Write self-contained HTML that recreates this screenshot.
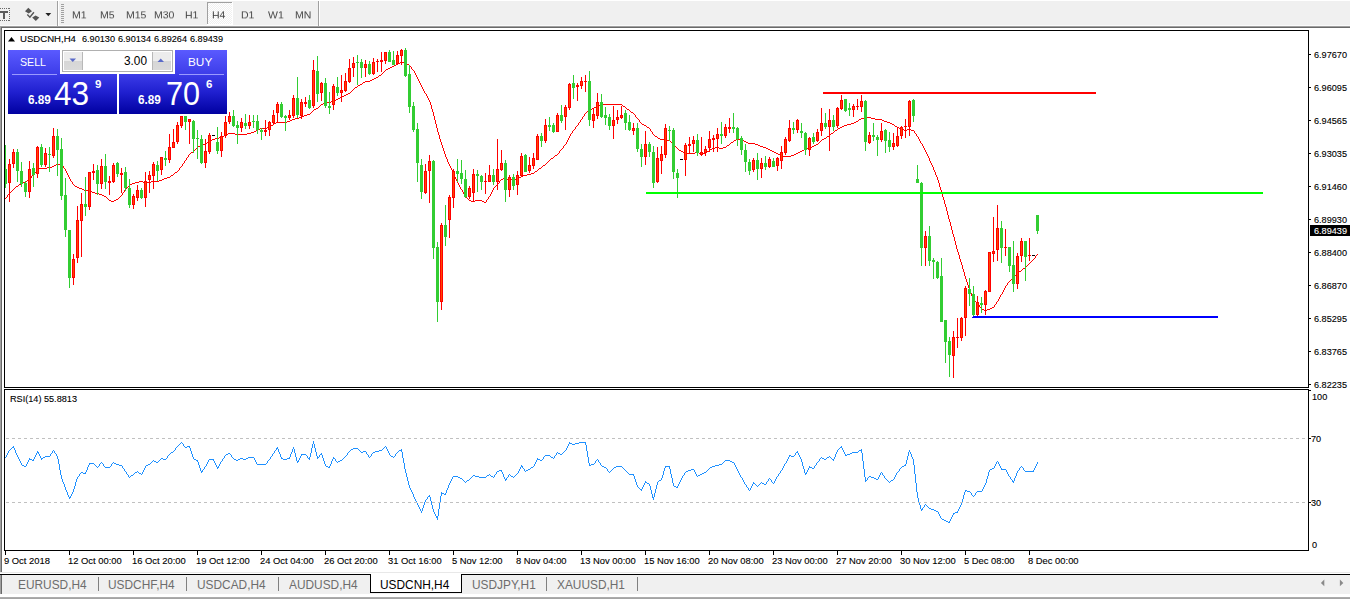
<!DOCTYPE html>
<html><head><meta charset="utf-8"><title>USDCNH,H4</title>
<style>
html,body{margin:0;padding:0;}
body{width:1350px;height:599px;position:relative;overflow:hidden;background:#fff;font-family:"Liberation Sans",sans-serif;}
#chart{position:absolute;left:0;top:0;}
.ax{position:absolute;font-size:9.9px;line-height:12px;color:#000;white-space:nowrap;transform-origin:0 50%;transform:scaleX(0.924);-webkit-text-stroke:0.12px currentColor;}
.cur{color:#fff;}
#tb{position:absolute;left:0;top:0;width:1350px;height:26px;background:#f0f0f0;border-bottom:1px solid #fafafa;box-sizing:border-box;}
#tbl{position:absolute;left:0;top:26px;width:1350px;height:2px;background:#696969;border-top:1px solid #a0a0a0;box-sizing:border-box;}
.tf{position:absolute;top:9.4px;font-size:10.2px;line-height:12px;color:#444;transform-origin:0 100%;transform:scale(1.03,0.875);will-change:transform;}
#lstrip{position:absolute;left:0;top:27px;width:2px;height:545px;background:#696969;border-left:1px solid #a0a0a0;box-sizing:border-box;}
#tabs{position:absolute;left:0;top:574px;width:1350px;height:20px;background:#f0f0f0;border-top:1px solid #000;box-sizing:border-box;}
#tabsbot{position:absolute;left:0;top:594px;width:1350px;height:5px;background:linear-gradient(#fff 0,#fff 60%,#b0b0b0 60%,#a0a0a0 100%);}
.tab{position:absolute;top:577.6px;font-size:12.5px;line-height:14px;color:#6d6d6d;white-space:nowrap;transform-origin:0 50%;transform:scaleX(0.95);}
.sep{position:absolute;top:577px;width:1px;height:14px;background:#808080;}
#atab{position:absolute;left:370px;top:574px;width:92px;height:19px;background:#fff;border:1px solid #000;border-top:none;box-sizing:border-box;}
.pn{position:absolute;color:#fff;white-space:nowrap;}
</style></head><body>
<svg id="chart" width="1350" height="599" viewBox="0 0 1350 599" shape-rendering="crispEdges">
<path d="M4 199h1v1h-1zM5 198h1v1h-1zM6 197h1v1h-1zM7 195h1v2h-1zM8 194h1v1h-1zM9 193h1v1h-1zM10 192h1v1h-1zM11 191h1v1h-1zM12 190h1v1h-1zM13 189h1v1h-1zM14 188h1v1h-1zM15 187h1v1h-1zM16 186h1v1h-1zM17 186h1v1h-1zM18 185h1v1h-1zM19 184h1v1h-1zM20 184h1v1h-1zM21 183h1v1h-1zM22 183h1v1h-1zM23 182h1v1h-1zM24 182h1v1h-1zM25 181h1v1h-1zM26 181h1v1h-1zM27 180h1v1h-1zM28 180h1v1h-1zM29 179h1v1h-1zM30 178h1v1h-1zM31 176h1v2h-1zM32 175h1v1h-1zM33 174h1v1h-1zM34 173h1v1h-1zM35 172h1v1h-1zM36 171h1v1h-1zM37 170h1v1h-1zM38 169h1v1h-1zM39 168h1v1h-1zM40 168h1v1h-1zM41 168h1v1h-1zM42 168h1v1h-1zM43 168h1v1h-1zM44 168h1v1h-1zM45 168h1v1h-1zM46 168h1v1h-1zM47 167h1v1h-1zM48 167h1v1h-1zM49 167h1v1h-1zM50 167h1v1h-1zM51 167h1v1h-1zM52 166h1v1h-1zM53 166h1v1h-1zM54 165h1v1h-1zM55 165h1v1h-1zM56 164h1v1h-1zM57 164h1v1h-1zM58 164h1v1h-1zM59 164h1v1h-1zM60 164h1v1h-1zM61 164h1v1h-1zM62 165h1v1h-1zM63 166h1v2h-1zM64 168h1v1h-1zM65 169h1v2h-1zM66 171h1v2h-1zM67 173h1v2h-1zM68 175h1v2h-1zM69 177h1v2h-1zM70 179h1v2h-1zM71 181h1v1h-1zM72 182h1v2h-1zM73 184h1v1h-1zM74 185h1v1h-1zM75 186h1v1h-1zM76 186h1v1h-1zM77 187h1v1h-1zM78 187h1v1h-1zM79 188h1v1h-1zM80 188h1v1h-1zM81 188h1v1h-1zM82 189h1v1h-1zM83 189h1v1h-1zM84 190h1v1h-1zM85 190h1v1h-1zM86 190h1v1h-1zM87 190h1v1h-1zM88 190h1v1h-1zM89 190h1v1h-1zM90 191h1v1h-1zM91 191h1v1h-1zM92 192h1v1h-1zM93 192h1v1h-1zM94 192h1v1h-1zM95 193h1v1h-1zM96 193h1v1h-1zM97 193h1v1h-1zM98 193h1v1h-1zM99 194h1v1h-1zM100 194h1v1h-1zM101 194h1v1h-1zM102 195h1v1h-1zM103 195h1v1h-1zM104 196h1v1h-1zM105 196h1v1h-1zM106 197h1v1h-1zM107 198h1v1h-1zM108 199h1v1h-1zM109 200h1v1h-1zM110 200h1v1h-1zM111 201h1v1h-1zM112 201h1v1h-1zM113 201h1v1h-1zM114 200h1v1h-1zM115 200h1v1h-1zM116 199h1v1h-1zM117 199h1v1h-1zM118 198h1v1h-1zM119 197h1v1h-1zM120 196h1v1h-1zM121 195h1v1h-1zM122 193h1v2h-1zM123 192h1v1h-1zM124 190h1v2h-1zM125 189h1v1h-1zM126 188h1v1h-1zM127 187h1v1h-1zM128 186h1v1h-1zM129 185h1v1h-1zM130 184h1v1h-1zM131 184h1v1h-1zM132 183h1v1h-1zM133 183h1v1h-1zM134 183h1v1h-1zM135 182h1v1h-1zM136 182h1v1h-1zM137 182h1v1h-1zM138 182h1v1h-1zM139 181h1v1h-1zM140 181h1v1h-1zM141 181h1v1h-1zM142 181h1v1h-1zM143 182h1v1h-1zM144 182h1v1h-1zM145 182h1v1h-1zM146 182h1v1h-1zM147 182h1v1h-1zM148 182h1v1h-1zM149 182h1v1h-1zM150 182h1v1h-1zM151 181h1v1h-1zM152 181h1v1h-1zM153 181h1v1h-1zM154 181h1v1h-1zM155 181h1v1h-1zM156 181h1v1h-1zM157 181h1v1h-1zM158 181h1v1h-1zM159 180h1v1h-1zM160 180h1v1h-1zM161 180h1v1h-1zM162 179h1v1h-1zM163 179h1v1h-1zM164 178h1v1h-1zM165 178h1v1h-1zM166 178h1v1h-1zM167 177h1v1h-1zM168 177h1v1h-1zM169 177h1v1h-1zM170 176h1v1h-1zM171 175h1v1h-1zM172 175h1v1h-1zM173 174h1v1h-1zM174 173h1v1h-1zM175 172h1v1h-1zM176 172h1v1h-1zM177 171h1v1h-1zM178 170h1v1h-1zM179 168h1v2h-1zM180 167h1v1h-1zM181 166h1v1h-1zM182 164h1v2h-1zM183 163h1v1h-1zM184 161h1v2h-1zM185 160h1v1h-1zM186 158h1v2h-1zM187 157h1v1h-1zM188 155h1v2h-1zM189 154h1v1h-1zM190 153h1v1h-1zM191 152h1v1h-1zM192 152h1v1h-1zM193 151h1v1h-1zM194 150h1v1h-1zM195 149h1v1h-1zM196 148h1v1h-1zM197 147h1v1h-1zM198 146h1v1h-1zM199 146h1v1h-1zM200 145h1v1h-1zM201 145h1v1h-1zM202 145h1v1h-1zM203 144h1v1h-1zM204 144h1v1h-1zM205 144h1v1h-1zM206 143h1v1h-1zM207 142h1v1h-1zM208 142h1v1h-1zM209 141h1v1h-1zM210 140h1v1h-1zM211 140h1v1h-1zM212 139h1v1h-1zM213 139h1v1h-1zM214 139h1v1h-1zM215 138h1v1h-1zM216 138h1v1h-1zM217 138h1v1h-1zM218 138h1v1h-1zM219 137h1v1h-1zM220 137h1v1h-1zM221 137h1v1h-1zM222 136h1v1h-1zM223 136h1v1h-1zM224 135h1v1h-1zM225 135h1v1h-1zM226 134h1v1h-1zM227 134h1v1h-1zM228 133h1v1h-1zM229 133h1v1h-1zM230 133h1v1h-1zM231 133h1v1h-1zM232 133h1v1h-1zM233 133h1v1h-1zM234 133h1v1h-1zM235 134h1v1h-1zM236 134h1v1h-1zM237 134h1v1h-1zM238 134h1v1h-1zM239 134h1v1h-1zM240 134h1v1h-1zM241 134h1v1h-1zM242 134h1v1h-1zM243 134h1v1h-1zM244 134h1v1h-1zM245 134h1v1h-1zM246 134h1v1h-1zM247 133h1v1h-1zM248 133h1v1h-1zM249 133h1v1h-1zM250 133h1v1h-1zM251 132h1v1h-1zM252 132h1v1h-1zM253 132h1v1h-1zM254 131h1v1h-1zM255 131h1v1h-1zM256 130h1v1h-1zM257 130h1v1h-1zM258 129h1v1h-1zM259 129h1v1h-1zM260 128h1v1h-1zM261 128h1v1h-1zM262 128h1v1h-1zM263 128h1v1h-1zM264 128h1v1h-1zM265 128h1v1h-1zM266 128h1v1h-1zM267 127h1v1h-1zM268 127h1v1h-1zM269 127h1v1h-1zM270 126h1v1h-1zM271 125h1v1h-1zM272 125h1v1h-1zM273 124h1v1h-1zM274 123h1v1h-1zM275 123h1v1h-1zM276 122h1v1h-1zM277 122h1v1h-1zM278 122h1v1h-1zM279 122h1v1h-1zM280 122h1v1h-1zM281 122h1v1h-1zM282 122h1v1h-1zM283 122h1v1h-1zM284 122h1v1h-1zM285 122h1v1h-1zM286 122h1v1h-1zM287 121h1v1h-1zM288 121h1v1h-1zM289 121h1v1h-1zM290 120h1v1h-1zM291 120h1v1h-1zM292 119h1v1h-1zM293 119h1v1h-1zM294 119h1v1h-1zM295 118h1v1h-1zM296 118h1v1h-1zM297 118h1v1h-1zM298 118h1v1h-1zM299 117h1v1h-1zM300 117h1v1h-1zM301 117h1v1h-1zM302 116h1v1h-1zM303 116h1v1h-1zM304 115h1v1h-1zM305 115h1v1h-1zM306 115h1v1h-1zM307 114h1v1h-1zM308 114h1v1h-1zM309 114h1v1h-1zM310 113h1v1h-1zM311 112h1v1h-1zM312 111h1v1h-1zM313 110h1v1h-1zM314 109h1v1h-1zM315 109h1v1h-1zM316 108h1v1h-1zM317 108h1v1h-1zM318 107h1v1h-1zM319 106h1v1h-1zM320 105h1v1h-1zM321 104h1v1h-1zM322 104h1v1h-1zM323 103h1v1h-1zM324 103h1v1h-1zM325 103h1v1h-1zM326 103h1v1h-1zM327 102h1v1h-1zM328 102h1v1h-1zM329 102h1v1h-1zM330 102h1v1h-1zM331 101h1v1h-1zM332 101h1v1h-1zM333 101h1v1h-1zM334 100h1v1h-1zM335 100h1v1h-1zM336 99h1v1h-1zM337 99h1v1h-1zM338 98h1v1h-1zM339 98h1v1h-1zM340 97h1v1h-1zM341 97h1v1h-1zM342 96h1v1h-1zM343 96h1v1h-1zM344 95h1v1h-1zM345 95h1v1h-1zM346 94h1v1h-1zM347 94h1v1h-1zM348 93h1v1h-1zM349 93h1v1h-1zM350 92h1v1h-1zM351 91h1v1h-1zM352 90h1v1h-1zM353 89h1v1h-1zM354 88h1v1h-1zM355 87h1v1h-1zM356 87h1v1h-1zM357 86h1v1h-1zM358 85h1v1h-1zM359 85h1v1h-1zM360 84h1v1h-1zM361 84h1v1h-1zM362 83h1v1h-1zM363 82h1v1h-1zM364 82h1v1h-1zM365 81h1v1h-1zM366 81h1v1h-1zM367 81h1v1h-1zM368 81h1v1h-1zM369 81h1v1h-1zM370 80h1v1h-1zM371 80h1v1h-1zM372 79h1v1h-1zM373 79h1v1h-1zM374 78h1v1h-1zM375 78h1v1h-1zM376 77h1v1h-1zM377 77h1v1h-1zM378 76h1v1h-1zM379 75h1v1h-1zM380 75h1v1h-1zM381 74h1v1h-1zM382 73h1v1h-1zM383 72h1v1h-1zM384 71h1v1h-1zM385 70h1v1h-1zM386 69h1v1h-1zM387 69h1v1h-1zM388 68h1v1h-1zM389 68h1v1h-1zM390 67h1v1h-1zM391 67h1v1h-1zM392 66h1v1h-1zM393 66h1v1h-1zM394 65h1v1h-1zM395 65h1v1h-1zM396 64h1v1h-1zM397 64h1v1h-1zM398 63h1v1h-1zM399 63h1v1h-1zM400 62h1v1h-1zM401 62h1v1h-1zM402 62h1v1h-1zM403 62h1v1h-1zM404 62h1v1h-1zM405 62h1v1h-1zM406 63h1v1h-1zM407 64h1v1h-1zM408 64h1v1h-1zM409 65h1v1h-1zM410 66h1v1h-1zM411 67h1v2h-1zM412 69h1v1h-1zM413 70h1v1h-1zM414 71h1v2h-1zM415 73h1v2h-1zM416 75h1v2h-1zM417 77h1v2h-1zM418 79h1v2h-1zM419 81h1v2h-1zM420 83h1v2h-1zM421 85h1v2h-1zM422 87h1v2h-1zM423 89h1v2h-1zM424 91h1v2h-1zM425 93h1v1h-1zM426 94h1v2h-1zM427 96h1v2h-1zM428 98h1v2h-1zM429 100h1v2h-1zM430 102h1v3h-1zM431 105h1v4h-1zM432 109h1v3h-1zM433 112h1v4h-1zM434 116h1v4h-1zM435 120h1v4h-1zM436 124h1v4h-1zM437 128h1v4h-1zM438 132h1v3h-1zM439 135h1v4h-1zM440 139h1v3h-1zM441 142h1v3h-1zM442 145h1v3h-1zM443 148h1v3h-1zM444 151h1v3h-1zM445 154h1v3h-1zM446 157h1v2h-1zM447 159h1v3h-1zM448 162h1v2h-1zM449 164h1v2h-1zM450 166h1v2h-1zM451 168h1v2h-1zM452 170h1v2h-1zM453 172h1v3h-1zM454 175h1v2h-1zM455 177h1v2h-1zM456 179h1v2h-1zM457 181h1v2h-1zM458 183h1v2h-1zM459 185h1v2h-1zM460 187h1v2h-1zM461 189h1v1h-1zM462 190h1v2h-1zM463 192h1v2h-1zM464 194h1v2h-1zM465 196h1v1h-1zM466 197h1v1h-1zM467 198h1v1h-1zM468 199h1v1h-1zM469 200h1v1h-1zM470 200h1v1h-1zM471 201h1v1h-1zM472 201h1v1h-1zM473 201h1v1h-1zM474 201h1v1h-1zM475 200h1v1h-1zM476 200h1v1h-1zM477 200h1v1h-1zM478 200h1v1h-1zM479 200h1v1h-1zM480 200h1v1h-1zM481 200h1v1h-1zM482 201h1v1h-1zM483 201h1v1h-1zM484 202h1v1h-1zM485 202h1v1h-1zM486 200h1v2h-1zM487 199h1v1h-1zM488 197h1v2h-1zM489 196h1v1h-1zM490 194h1v2h-1zM491 192h1v2h-1zM492 190h1v2h-1zM493 188h1v2h-1zM494 187h1v1h-1zM495 186h1v1h-1zM496 185h1v1h-1zM497 184h1v1h-1zM498 183h1v1h-1zM499 181h1v2h-1zM500 180h1v1h-1zM501 179h1v1h-1zM502 179h1v1h-1zM503 178h1v1h-1zM504 178h1v1h-1zM505 178h1v1h-1zM506 178h1v1h-1zM507 179h1v1h-1zM508 179h1v1h-1zM509 179h1v1h-1zM510 179h1v1h-1zM511 179h1v1h-1zM512 179h1v1h-1zM513 179h1v1h-1zM514 179h1v1h-1zM515 179h1v1h-1zM516 179h1v1h-1zM517 179h1v1h-1zM518 178h1v1h-1zM519 177h1v1h-1zM520 177h1v1h-1zM521 176h1v1h-1zM522 176h1v1h-1zM523 175h1v1h-1zM524 175h1v1h-1zM525 175h1v1h-1zM526 175h1v1h-1zM527 174h1v1h-1zM528 174h1v1h-1zM529 174h1v1h-1zM530 174h1v1h-1zM531 173h1v1h-1zM532 173h1v1h-1zM533 173h1v1h-1zM534 172h1v1h-1zM535 171h1v1h-1zM536 171h1v1h-1zM537 170h1v1h-1zM538 169h1v1h-1zM539 168h1v1h-1zM540 168h1v1h-1zM541 167h1v1h-1zM542 166h1v1h-1zM543 165h1v1h-1zM544 165h1v1h-1zM545 164h1v1h-1zM546 163h1v1h-1zM547 162h1v1h-1zM548 161h1v1h-1zM549 160h1v1h-1zM550 159h1v1h-1zM551 158h1v1h-1zM552 158h1v1h-1zM553 157h1v1h-1zM554 156h1v1h-1zM555 155h1v1h-1zM556 155h1v1h-1zM557 154h1v1h-1zM558 153h1v1h-1zM559 151h1v2h-1zM560 150h1v1h-1zM561 149h1v1h-1zM562 148h1v1h-1zM563 146h1v2h-1zM564 145h1v1h-1zM565 144h1v1h-1zM566 142h1v2h-1zM567 140h1v2h-1zM568 138h1v2h-1zM569 136h1v2h-1zM570 134h1v2h-1zM571 133h1v1h-1zM572 131h1v2h-1zM573 130h1v1h-1zM574 129h1v1h-1zM575 127h1v2h-1zM576 126h1v1h-1zM577 125h1v1h-1zM578 123h1v2h-1zM579 122h1v1h-1zM580 120h1v2h-1zM581 119h1v1h-1zM582 117h1v2h-1zM583 116h1v1h-1zM584 114h1v2h-1zM585 113h1v1h-1zM586 112h1v1h-1zM587 111h1v1h-1zM588 111h1v1h-1zM589 110h1v1h-1zM590 109h1v1h-1zM591 109h1v1h-1zM592 108h1v1h-1zM593 108h1v1h-1zM594 107h1v1h-1zM595 107h1v1h-1zM596 106h1v1h-1zM597 106h1v1h-1zM598 106h1v1h-1zM599 105h1v1h-1zM600 105h1v1h-1zM601 105h1v1h-1zM602 105h1v1h-1zM603 104h1v1h-1zM604 104h1v1h-1zM605 104h1v1h-1zM606 104h1v1h-1zM607 104h1v1h-1zM608 104h1v1h-1zM609 104h1v1h-1zM610 104h1v1h-1zM611 104h1v1h-1zM612 104h1v1h-1zM613 104h1v1h-1zM614 104h1v1h-1zM615 104h1v1h-1zM616 104h1v1h-1zM617 104h1v1h-1zM618 104h1v1h-1zM619 104h1v1h-1zM620 104h1v1h-1zM621 104h1v1h-1zM622 105h1v1h-1zM623 106h1v1h-1zM624 106h1v1h-1zM625 107h1v1h-1zM626 108h1v1h-1zM627 109h1v1h-1zM628 109h1v1h-1zM629 110h1v1h-1zM630 111h1v1h-1zM631 112h1v1h-1zM632 112h1v1h-1zM633 113h1v1h-1zM634 114h1v1h-1zM635 115h1v2h-1zM636 117h1v1h-1zM637 118h1v1h-1zM638 119h1v1h-1zM639 120h1v2h-1zM640 122h1v1h-1zM641 123h1v1h-1zM642 124h1v1h-1zM643 124h1v1h-1zM644 125h1v1h-1zM645 125h1v1h-1zM646 126h1v1h-1zM647 127h1v1h-1zM648 127h1v1h-1zM649 128h1v1h-1zM650 129h1v2h-1zM651 131h1v1h-1zM652 132h1v2h-1zM653 134h1v1h-1zM654 135h1v1h-1zM655 136h1v1h-1zM656 136h1v1h-1zM657 137h1v1h-1zM658 138h1v1h-1zM659 138h1v1h-1zM660 139h1v1h-1zM661 139h1v1h-1zM662 139h1v1h-1zM663 139h1v1h-1zM664 139h1v1h-1zM665 139h1v1h-1zM666 139h1v1h-1zM667 140h1v1h-1zM668 140h1v1h-1zM669 140h1v1h-1zM670 141h1v1h-1zM671 142h1v1h-1zM672 143h1v1h-1zM673 144h1v1h-1zM674 145h1v1h-1zM675 146h1v1h-1zM676 147h1v1h-1zM677 148h1v1h-1zM678 149h1v1h-1zM679 150h1v1h-1zM680 150h1v1h-1zM681 151h1v1h-1zM682 151h1v1h-1zM683 152h1v1h-1zM684 152h1v1h-1zM685 152h1v1h-1zM686 152h1v1h-1zM687 153h1v1h-1zM688 153h1v1h-1zM689 153h1v1h-1zM690 153h1v1h-1zM691 153h1v1h-1zM692 153h1v1h-1zM693 153h1v1h-1zM694 153h1v1h-1zM695 152h1v1h-1zM696 152h1v1h-1zM697 152h1v1h-1zM698 152h1v1h-1zM699 153h1v1h-1zM700 153h1v1h-1zM701 153h1v1h-1zM702 153h1v1h-1zM703 153h1v1h-1zM704 153h1v1h-1zM705 153h1v1h-1zM706 152h1v1h-1zM707 151h1v1h-1zM708 151h1v1h-1zM709 150h1v1h-1zM710 149h1v1h-1zM711 149h1v1h-1zM712 148h1v1h-1zM713 148h1v1h-1zM714 148h1v1h-1zM715 147h1v1h-1zM716 147h1v1h-1zM717 147h1v1h-1zM718 147h1v1h-1zM719 148h1v1h-1zM720 148h1v1h-1zM721 148h1v1h-1zM722 148h1v1h-1zM723 147h1v1h-1zM724 147h1v1h-1zM725 147h1v1h-1zM726 146h1v1h-1zM727 145h1v1h-1zM728 145h1v1h-1zM729 144h1v1h-1zM730 143h1v1h-1zM731 142h1v1h-1zM732 142h1v1h-1zM733 141h1v1h-1zM734 140h1v1h-1zM735 140h1v1h-1zM736 139h1v1h-1zM737 139h1v1h-1zM738 139h1v1h-1zM739 139h1v1h-1zM740 139h1v1h-1zM741 139h1v1h-1zM742 140h1v1h-1zM743 140h1v1h-1zM744 141h1v1h-1zM745 141h1v1h-1zM746 142h1v1h-1zM747 142h1v1h-1zM748 143h1v1h-1zM749 143h1v1h-1zM750 143h1v1h-1zM751 143h1v1h-1zM752 143h1v1h-1zM753 143h1v1h-1zM754 143h1v1h-1zM755 144h1v1h-1zM756 144h1v1h-1zM757 144h1v1h-1zM758 145h1v1h-1zM759 145h1v1h-1zM760 146h1v1h-1zM761 146h1v1h-1zM762 146h1v1h-1zM763 147h1v1h-1zM764 147h1v1h-1zM765 147h1v1h-1zM766 148h1v1h-1zM767 148h1v1h-1zM768 149h1v1h-1zM769 149h1v1h-1zM770 150h1v1h-1zM771 150h1v1h-1zM772 151h1v1h-1zM773 151h1v1h-1zM774 152h1v1h-1zM775 152h1v1h-1zM776 153h1v1h-1zM777 153h1v1h-1zM778 154h1v1h-1zM779 154h1v1h-1zM780 155h1v1h-1zM781 155h1v1h-1zM782 155h1v1h-1zM783 156h1v1h-1zM784 156h1v1h-1zM785 156h1v1h-1zM786 156h1v1h-1zM787 156h1v1h-1zM788 156h1v1h-1zM789 156h1v1h-1zM790 156h1v1h-1zM791 155h1v1h-1zM792 155h1v1h-1zM793 155h1v1h-1zM794 154h1v1h-1zM795 154h1v1h-1zM796 153h1v1h-1zM797 153h1v1h-1zM798 152h1v1h-1zM799 152h1v1h-1zM800 151h1v1h-1zM801 151h1v1h-1zM802 150h1v1h-1zM803 150h1v1h-1zM804 149h1v1h-1zM805 149h1v1h-1zM806 149h1v1h-1zM807 148h1v1h-1zM808 148h1v1h-1zM809 148h1v1h-1zM810 147h1v1h-1zM811 147h1v1h-1zM812 146h1v1h-1zM813 146h1v1h-1zM814 145h1v1h-1zM815 145h1v1h-1zM816 144h1v1h-1zM817 144h1v1h-1zM818 143h1v1h-1zM819 142h1v1h-1zM820 141h1v1h-1zM821 140h1v1h-1zM822 139h1v1h-1zM823 139h1v1h-1zM824 138h1v1h-1zM825 138h1v1h-1zM826 137h1v1h-1zM827 136h1v1h-1zM828 136h1v1h-1zM829 135h1v1h-1zM830 134h1v1h-1zM831 133h1v1h-1zM832 133h1v1h-1zM833 132h1v1h-1zM834 131h1v1h-1zM835 130h1v1h-1zM836 130h1v1h-1zM837 129h1v1h-1zM838 128h1v1h-1zM839 128h1v1h-1zM840 127h1v1h-1zM841 127h1v1h-1zM842 126h1v1h-1zM843 126h1v1h-1zM844 125h1v1h-1zM845 125h1v1h-1zM846 125h1v1h-1zM847 124h1v1h-1zM848 124h1v1h-1zM849 124h1v1h-1zM850 124h1v1h-1zM851 123h1v1h-1zM852 123h1v1h-1zM853 123h1v1h-1zM854 122h1v1h-1zM855 122h1v1h-1zM856 121h1v1h-1zM857 121h1v1h-1zM858 120h1v1h-1zM859 119h1v1h-1zM860 119h1v1h-1zM861 118h1v1h-1zM862 118h1v1h-1zM863 118h1v1h-1zM864 118h1v1h-1zM865 118h1v1h-1zM866 118h1v1h-1zM867 117h1v1h-1zM868 117h1v1h-1zM869 117h1v1h-1zM870 117h1v1h-1zM871 118h1v1h-1zM872 118h1v1h-1zM873 118h1v1h-1zM874 118h1v1h-1zM875 119h1v1h-1zM876 119h1v1h-1zM877 119h1v1h-1zM878 119h1v1h-1zM879 119h1v1h-1zM880 119h1v1h-1zM881 119h1v1h-1zM882 120h1v1h-1zM883 120h1v1h-1zM884 121h1v1h-1zM885 121h1v1h-1zM886 121h1v1h-1zM887 122h1v1h-1zM888 122h1v1h-1zM889 122h1v1h-1zM890 123h1v1h-1zM891 123h1v1h-1zM892 124h1v1h-1zM893 124h1v1h-1zM894 125h1v1h-1zM895 126h1v1h-1zM896 126h1v1h-1zM897 127h1v1h-1zM898 127h1v1h-1zM899 128h1v1h-1zM900 128h1v1h-1zM901 128h1v1h-1zM902 129h1v1h-1zM903 129h1v1h-1zM904 130h1v1h-1zM905 130h1v1h-1zM906 130h1v1h-1zM907 129h1v1h-1zM908 129h1v1h-1zM909 129h1v1h-1zM910 129h1v1h-1zM911 130h1v1h-1zM912 130h1v1h-1zM913 130h1v1h-1zM914 131h1v2h-1zM915 133h1v1h-1zM916 134h1v2h-1zM917 136h1v1h-1zM918 137h1v2h-1zM919 139h1v2h-1zM920 141h1v2h-1zM921 143h1v1h-1zM922 144h1v2h-1zM923 146h1v2h-1zM924 148h1v2h-1zM925 150h1v2h-1zM926 152h1v2h-1zM927 154h1v2h-1zM928 156h1v2h-1zM929 158h1v3h-1zM930 161h1v2h-1zM931 163h1v2h-1zM932 165h1v2h-1zM933 167h1v3h-1zM934 170h1v2h-1zM935 172h1v3h-1zM936 175h1v2h-1zM937 177h1v3h-1zM938 180h1v3h-1zM939 183h1v4h-1zM940 187h1v3h-1zM941 190h1v3h-1zM942 193h1v4h-1zM943 197h1v3h-1zM944 200h1v4h-1zM945 204h1v3h-1zM946 207h1v4h-1zM947 211h1v4h-1zM948 215h1v4h-1zM949 219h1v3h-1zM950 222h1v4h-1zM951 226h1v4h-1zM952 230h1v4h-1zM953 234h1v3h-1zM954 237h1v4h-1zM955 241h1v4h-1zM956 245h1v4h-1zM957 249h1v3h-1zM958 252h1v3h-1zM959 255h1v4h-1zM960 259h1v3h-1zM961 262h1v3h-1zM962 265h1v4h-1zM963 269h1v3h-1zM964 272h1v4h-1zM965 276h1v3h-1zM966 279h1v3h-1zM967 282h1v3h-1zM968 285h1v3h-1zM969 288h1v3h-1zM970 291h1v2h-1zM971 293h1v3h-1zM972 296h1v2h-1zM973 298h1v2h-1zM974 300h1v1h-1zM975 301h1v1h-1zM976 302h1v1h-1zM977 303h1v1h-1zM978 304h1v1h-1zM979 305h1v2h-1zM980 307h1v1h-1zM981 308h1v1h-1zM982 309h1v1h-1zM983 309h1v1h-1zM984 310h1v1h-1zM985 310h1v1h-1zM986 310h1v1h-1zM987 309h1v1h-1zM988 309h1v1h-1zM989 309h1v1h-1zM990 308h1v1h-1zM991 308h1v1h-1zM992 307h1v1h-1zM993 307h1v1h-1zM994 305h1v2h-1zM995 304h1v1h-1zM996 302h1v2h-1zM997 301h1v1h-1zM998 299h1v2h-1zM999 297h1v2h-1zM1000 295h1v2h-1zM1001 294h1v1h-1zM1002 292h1v2h-1zM1003 290h1v2h-1zM1004 288h1v2h-1zM1005 286h1v2h-1zM1006 285h1v1h-1zM1007 283h1v2h-1zM1008 282h1v1h-1zM1009 281h1v1h-1zM1010 280h1v1h-1zM1011 279h1v1h-1zM1012 278h1v1h-1zM1013 277h1v1h-1zM1014 276h1v1h-1zM1015 275h1v1h-1zM1016 274h1v1h-1zM1017 273h1v1h-1zM1018 272h1v1h-1zM1019 271h1v1h-1zM1020 271h1v1h-1zM1021 270h1v1h-1zM1022 269h1v1h-1zM1023 268h1v1h-1zM1024 268h1v1h-1zM1025 267h1v1h-1zM1026 266h1v1h-1zM1027 265h1v1h-1zM1028 264h1v1h-1zM1029 263h1v1h-1zM1030 262h1v1h-1zM1031 261h1v1h-1zM1032 260h1v1h-1zM1033 259h1v1h-1zM1034 258h1v1h-1zM1035 256h1v2h-1zM1036 255h1v1h-1zM1037 254h1v1h-1z" fill="#ff0000"/>
<rect x="5" y="145" width="1" height="43" fill="#32cd32"/>
<rect x="4" y="169" width="3" height="15" fill="#32cd32"/>
<rect x="9" y="159" width="1" height="43" fill="#ff0000"/>
<rect x="8" y="164" width="3" height="19" fill="#ff0000"/>
<rect x="9" y="165" width="1" height="17" fill="#ff4500"/>
<rect x="13" y="149" width="1" height="19" fill="#ff0000"/>
<rect x="12" y="152" width="3" height="12" fill="#ff0000"/>
<rect x="13" y="153" width="1" height="10" fill="#ff4500"/>
<rect x="17" y="149" width="1" height="33" fill="#32cd32"/>
<rect x="16" y="152" width="3" height="19" fill="#32cd32"/>
<rect x="21" y="162" width="1" height="25" fill="#32cd32"/>
<rect x="20" y="171" width="3" height="13" fill="#32cd32"/>
<rect x="25" y="181" width="1" height="16" fill="#32cd32"/>
<rect x="24" y="183" width="3" height="9" fill="#32cd32"/>
<rect x="29" y="161" width="1" height="37" fill="#ff0000"/>
<rect x="28" y="169" width="3" height="23" fill="#ff0000"/>
<rect x="29" y="170" width="1" height="21" fill="#ff4500"/>
<rect x="33" y="163" width="1" height="24" fill="#32cd32"/>
<rect x="32" y="168" width="3" height="7" fill="#32cd32"/>
<rect x="37" y="146" width="1" height="32" fill="#ff0000"/>
<rect x="36" y="147" width="3" height="27" fill="#ff0000"/>
<rect x="37" y="148" width="1" height="25" fill="#ff4500"/>
<rect x="41" y="144" width="1" height="23" fill="#32cd32"/>
<rect x="40" y="147" width="3" height="18" fill="#32cd32"/>
<rect x="45" y="148" width="1" height="19" fill="#ff0000"/>
<rect x="44" y="153" width="3" height="12" fill="#ff0000"/>
<rect x="45" y="154" width="1" height="10" fill="#ff4500"/>
<rect x="49" y="147" width="1" height="25" fill="#32cd32"/>
<rect x="48" y="154" width="3" height="1" fill="#32cd32"/>
<rect x="53" y="128" width="1" height="30" fill="#ff0000"/>
<rect x="52" y="136" width="3" height="20" fill="#ff0000"/>
<rect x="53" y="137" width="1" height="18" fill="#ff4500"/>
<rect x="57" y="129" width="1" height="47" fill="#32cd32"/>
<rect x="56" y="136" width="3" height="14" fill="#32cd32"/>
<rect x="61" y="138" width="1" height="62" fill="#32cd32"/>
<rect x="60" y="149" width="3" height="47" fill="#32cd32"/>
<rect x="65" y="178" width="1" height="59" fill="#32cd32"/>
<rect x="64" y="195" width="3" height="35" fill="#32cd32"/>
<rect x="69" y="230" width="1" height="58" fill="#32cd32"/>
<rect x="68" y="230" width="3" height="48" fill="#32cd32"/>
<rect x="73" y="254" width="1" height="31" fill="#ff0000"/>
<rect x="72" y="259" width="3" height="19" fill="#ff0000"/>
<rect x="73" y="260" width="1" height="17" fill="#ff4500"/>
<rect x="77" y="206" width="1" height="57" fill="#ff0000"/>
<rect x="76" y="220" width="3" height="38" fill="#ff0000"/>
<rect x="77" y="221" width="1" height="36" fill="#ff4500"/>
<rect x="81" y="193" width="1" height="64" fill="#ff0000"/>
<rect x="80" y="204" width="3" height="17" fill="#ff0000"/>
<rect x="81" y="205" width="1" height="15" fill="#ff4500"/>
<rect x="85" y="177" width="1" height="39" fill="#32cd32"/>
<rect x="84" y="204" width="3" height="3" fill="#32cd32"/>
<rect x="89" y="172" width="1" height="38" fill="#ff0000"/>
<rect x="88" y="172" width="3" height="35" fill="#ff0000"/>
<rect x="89" y="173" width="1" height="33" fill="#ff4500"/>
<rect x="93" y="164" width="1" height="16" fill="#ff0000"/>
<rect x="92" y="171" width="3" height="2" fill="#ff0000"/>
<rect x="97" y="165" width="1" height="30" fill="#32cd32"/>
<rect x="96" y="170" width="3" height="14" fill="#32cd32"/>
<rect x="101" y="159" width="1" height="30" fill="#ff0000"/>
<rect x="100" y="166" width="3" height="18" fill="#ff0000"/>
<rect x="101" y="167" width="1" height="16" fill="#ff4500"/>
<rect x="105" y="154" width="1" height="35" fill="#32cd32"/>
<rect x="104" y="166" width="3" height="16" fill="#32cd32"/>
<rect x="109" y="176" width="1" height="19" fill="#ff0000"/>
<rect x="108" y="181" width="3" height="2" fill="#ff0000"/>
<rect x="113" y="163" width="1" height="20" fill="#ff0000"/>
<rect x="112" y="165" width="3" height="17" fill="#ff0000"/>
<rect x="113" y="166" width="1" height="15" fill="#ff4500"/>
<rect x="117" y="162" width="1" height="15" fill="#32cd32"/>
<rect x="116" y="163" width="3" height="11" fill="#32cd32"/>
<rect x="121" y="168" width="1" height="25" fill="#ff0000"/>
<rect x="120" y="173" width="3" height="2" fill="#ff0000"/>
<rect x="125" y="167" width="1" height="24" fill="#32cd32"/>
<rect x="124" y="172" width="3" height="16" fill="#32cd32"/>
<rect x="129" y="179" width="1" height="29" fill="#32cd32"/>
<rect x="128" y="188" width="3" height="17" fill="#32cd32"/>
<rect x="133" y="194" width="1" height="15" fill="#ff0000"/>
<rect x="132" y="196" width="3" height="9" fill="#ff0000"/>
<rect x="133" y="197" width="1" height="7" fill="#ff4500"/>
<rect x="137" y="185" width="1" height="16" fill="#ff0000"/>
<rect x="136" y="190" width="3" height="8" fill="#ff0000"/>
<rect x="137" y="191" width="1" height="6" fill="#ff4500"/>
<rect x="141" y="188" width="1" height="11" fill="#32cd32"/>
<rect x="140" y="190" width="3" height="8" fill="#32cd32"/>
<rect x="145" y="172" width="1" height="35" fill="#ff0000"/>
<rect x="144" y="181" width="3" height="17" fill="#ff0000"/>
<rect x="145" y="182" width="1" height="15" fill="#ff4500"/>
<rect x="149" y="171" width="1" height="22" fill="#ff0000"/>
<rect x="148" y="175" width="3" height="5" fill="#ff0000"/>
<rect x="149" y="176" width="1" height="3" fill="#ff4500"/>
<rect x="153" y="162" width="1" height="27" fill="#ff0000"/>
<rect x="152" y="164" width="3" height="12" fill="#ff0000"/>
<rect x="153" y="165" width="1" height="10" fill="#ff4500"/>
<rect x="157" y="161" width="1" height="20" fill="#32cd32"/>
<rect x="156" y="165" width="3" height="6" fill="#32cd32"/>
<rect x="161" y="157" width="1" height="18" fill="#ff0000"/>
<rect x="160" y="157" width="3" height="13" fill="#ff0000"/>
<rect x="161" y="158" width="1" height="11" fill="#ff4500"/>
<rect x="165" y="151" width="1" height="15" fill="#32cd32"/>
<rect x="164" y="158" width="3" height="2" fill="#32cd32"/>
<rect x="169" y="134" width="1" height="29" fill="#ff0000"/>
<rect x="168" y="147" width="3" height="13" fill="#ff0000"/>
<rect x="169" y="148" width="1" height="11" fill="#ff4500"/>
<rect x="173" y="129" width="1" height="19" fill="#ff0000"/>
<rect x="172" y="142" width="3" height="6" fill="#ff0000"/>
<rect x="173" y="143" width="1" height="4" fill="#ff4500"/>
<rect x="177" y="122" width="1" height="22" fill="#ff0000"/>
<rect x="176" y="125" width="3" height="17" fill="#ff0000"/>
<rect x="177" y="126" width="1" height="15" fill="#ff4500"/>
<rect x="181" y="116" width="1" height="12" fill="#ff0000"/>
<rect x="180" y="116" width="3" height="10" fill="#ff0000"/>
<rect x="181" y="117" width="1" height="8" fill="#ff4500"/>
<rect x="185" y="116" width="1" height="14" fill="#32cd32"/>
<rect x="184" y="116" width="3" height="6" fill="#32cd32"/>
<rect x="189" y="119" width="1" height="25" fill="#ff0000"/>
<rect x="188" y="119" width="3" height="3" fill="#ff0000"/>
<rect x="189" y="120" width="1" height="1" fill="#ff4500"/>
<rect x="193" y="120" width="1" height="33" fill="#32cd32"/>
<rect x="192" y="121" width="3" height="18" fill="#32cd32"/>
<rect x="197" y="130" width="1" height="29" fill="#32cd32"/>
<rect x="196" y="138" width="3" height="1" fill="#32cd32"/>
<rect x="201" y="135" width="1" height="29" fill="#32cd32"/>
<rect x="200" y="139" width="3" height="24" fill="#32cd32"/>
<rect x="205" y="139" width="1" height="29" fill="#ff0000"/>
<rect x="204" y="151" width="3" height="12" fill="#ff0000"/>
<rect x="205" y="152" width="1" height="10" fill="#ff4500"/>
<rect x="209" y="133" width="1" height="21" fill="#ff0000"/>
<rect x="208" y="135" width="3" height="17" fill="#ff0000"/>
<rect x="209" y="136" width="1" height="15" fill="#ff4500"/>
<rect x="213" y="135" width="1" height="1" fill="#000000"/>
<rect x="212" y="135" width="3" height="1" fill="#000000"/>
<rect x="217" y="127" width="1" height="27" fill="#32cd32"/>
<rect x="216" y="142" width="3" height="9" fill="#32cd32"/>
<rect x="221" y="132" width="1" height="25" fill="#ff0000"/>
<rect x="220" y="136" width="3" height="15" fill="#ff0000"/>
<rect x="221" y="137" width="1" height="13" fill="#ff4500"/>
<rect x="225" y="116" width="1" height="22" fill="#ff0000"/>
<rect x="224" y="122" width="3" height="14" fill="#ff0000"/>
<rect x="225" y="123" width="1" height="12" fill="#ff4500"/>
<rect x="229" y="112" width="1" height="12" fill="#ff0000"/>
<rect x="228" y="116" width="3" height="6" fill="#ff0000"/>
<rect x="229" y="117" width="1" height="4" fill="#ff4500"/>
<rect x="233" y="110" width="1" height="17" fill="#32cd32"/>
<rect x="232" y="116" width="3" height="10" fill="#32cd32"/>
<rect x="237" y="121" width="1" height="23" fill="#32cd32"/>
<rect x="236" y="125" width="3" height="3" fill="#32cd32"/>
<rect x="241" y="118" width="1" height="14" fill="#ff0000"/>
<rect x="240" y="122" width="3" height="6" fill="#ff0000"/>
<rect x="241" y="123" width="1" height="4" fill="#ff4500"/>
<rect x="245" y="114" width="1" height="15" fill="#32cd32"/>
<rect x="244" y="123" width="3" height="3" fill="#32cd32"/>
<rect x="249" y="115" width="1" height="14" fill="#ff0000"/>
<rect x="248" y="122" width="3" height="4" fill="#ff0000"/>
<rect x="249" y="123" width="1" height="2" fill="#ff4500"/>
<rect x="253" y="115" width="1" height="13" fill="#32cd32"/>
<rect x="252" y="121" width="3" height="1" fill="#32cd32"/>
<rect x="257" y="115" width="1" height="19" fill="#32cd32"/>
<rect x="256" y="121" width="3" height="9" fill="#32cd32"/>
<rect x="261" y="128" width="1" height="12" fill="#32cd32"/>
<rect x="260" y="130" width="3" height="2" fill="#32cd32"/>
<rect x="265" y="120" width="1" height="16" fill="#ff0000"/>
<rect x="264" y="130" width="3" height="2" fill="#ff0000"/>
<rect x="269" y="121" width="1" height="15" fill="#ff0000"/>
<rect x="268" y="122" width="3" height="8" fill="#ff0000"/>
<rect x="269" y="123" width="1" height="6" fill="#ff4500"/>
<rect x="273" y="110" width="1" height="14" fill="#ff0000"/>
<rect x="272" y="115" width="3" height="8" fill="#ff0000"/>
<rect x="273" y="116" width="1" height="6" fill="#ff4500"/>
<rect x="277" y="102" width="1" height="21" fill="#ff0000"/>
<rect x="276" y="104" width="3" height="9" fill="#ff0000"/>
<rect x="277" y="105" width="1" height="7" fill="#ff4500"/>
<rect x="281" y="102" width="1" height="16" fill="#32cd32"/>
<rect x="280" y="104" width="3" height="13" fill="#32cd32"/>
<rect x="285" y="115" width="1" height="16" fill="#32cd32"/>
<rect x="284" y="116" width="3" height="2" fill="#32cd32"/>
<rect x="289" y="110" width="1" height="10" fill="#ff0000"/>
<rect x="288" y="115" width="3" height="3" fill="#ff0000"/>
<rect x="289" y="116" width="1" height="1" fill="#ff4500"/>
<rect x="293" y="95" width="1" height="23" fill="#ff0000"/>
<rect x="292" y="98" width="3" height="18" fill="#ff0000"/>
<rect x="293" y="99" width="1" height="16" fill="#ff4500"/>
<rect x="297" y="77" width="1" height="41" fill="#32cd32"/>
<rect x="296" y="98" width="3" height="17" fill="#32cd32"/>
<rect x="301" y="99" width="1" height="20" fill="#ff0000"/>
<rect x="300" y="102" width="3" height="14" fill="#ff0000"/>
<rect x="301" y="103" width="1" height="12" fill="#ff4500"/>
<rect x="305" y="97" width="1" height="10" fill="#ff0000"/>
<rect x="304" y="102" width="3" height="2" fill="#ff0000"/>
<rect x="309" y="95" width="1" height="14" fill="#32cd32"/>
<rect x="308" y="100" width="3" height="8" fill="#32cd32"/>
<rect x="313" y="60" width="1" height="48" fill="#ff0000"/>
<rect x="312" y="70" width="3" height="36" fill="#ff0000"/>
<rect x="313" y="71" width="1" height="34" fill="#ff4500"/>
<rect x="317" y="56" width="1" height="46" fill="#32cd32"/>
<rect x="316" y="71" width="3" height="23" fill="#32cd32"/>
<rect x="321" y="82" width="1" height="19" fill="#ff0000"/>
<rect x="320" y="83" width="3" height="10" fill="#ff0000"/>
<rect x="321" y="84" width="1" height="8" fill="#ff4500"/>
<rect x="325" y="78" width="1" height="30" fill="#32cd32"/>
<rect x="324" y="83" width="3" height="23" fill="#32cd32"/>
<rect x="329" y="92" width="1" height="22" fill="#32cd32"/>
<rect x="328" y="106" width="3" height="2" fill="#32cd32"/>
<rect x="333" y="84" width="1" height="26" fill="#ff0000"/>
<rect x="332" y="86" width="3" height="19" fill="#ff0000"/>
<rect x="333" y="87" width="1" height="17" fill="#ff4500"/>
<rect x="337" y="77" width="1" height="19" fill="#32cd32"/>
<rect x="336" y="87" width="3" height="6" fill="#32cd32"/>
<rect x="341" y="75" width="1" height="27" fill="#ff0000"/>
<rect x="340" y="90" width="3" height="3" fill="#ff0000"/>
<rect x="341" y="91" width="1" height="1" fill="#ff4500"/>
<rect x="345" y="73" width="1" height="19" fill="#ff0000"/>
<rect x="344" y="81" width="3" height="10" fill="#ff0000"/>
<rect x="345" y="82" width="1" height="8" fill="#ff4500"/>
<rect x="349" y="59" width="1" height="24" fill="#ff0000"/>
<rect x="348" y="68" width="3" height="14" fill="#ff0000"/>
<rect x="349" y="69" width="1" height="12" fill="#ff4500"/>
<rect x="353" y="57" width="1" height="20" fill="#ff0000"/>
<rect x="352" y="63" width="3" height="5" fill="#ff0000"/>
<rect x="353" y="64" width="1" height="3" fill="#ff4500"/>
<rect x="357" y="55" width="1" height="30" fill="#32cd32"/>
<rect x="356" y="62" width="3" height="1" fill="#32cd32"/>
<rect x="361" y="59" width="1" height="19" fill="#32cd32"/>
<rect x="360" y="62" width="3" height="6" fill="#32cd32"/>
<rect x="365" y="60" width="1" height="17" fill="#ff0000"/>
<rect x="364" y="64" width="3" height="4" fill="#ff0000"/>
<rect x="365" y="65" width="1" height="2" fill="#ff4500"/>
<rect x="369" y="61" width="1" height="14" fill="#32cd32"/>
<rect x="368" y="64" width="3" height="10" fill="#32cd32"/>
<rect x="373" y="58" width="1" height="17" fill="#ff0000"/>
<rect x="372" y="62" width="3" height="12" fill="#ff0000"/>
<rect x="373" y="63" width="1" height="10" fill="#ff4500"/>
<rect x="377" y="59" width="1" height="13" fill="#ff0000"/>
<rect x="376" y="61" width="3" height="1" fill="#ff0000"/>
<rect x="381" y="52" width="1" height="20" fill="#ff0000"/>
<rect x="380" y="60" width="3" height="2" fill="#ff0000"/>
<rect x="385" y="52" width="1" height="12" fill="#ff0000"/>
<rect x="384" y="52" width="3" height="9" fill="#ff0000"/>
<rect x="385" y="53" width="1" height="7" fill="#ff4500"/>
<rect x="389" y="50" width="1" height="12" fill="#32cd32"/>
<rect x="388" y="52" width="3" height="10" fill="#32cd32"/>
<rect x="393" y="51" width="1" height="14" fill="#32cd32"/>
<rect x="392" y="60" width="3" height="5" fill="#32cd32"/>
<rect x="397" y="51" width="1" height="14" fill="#ff0000"/>
<rect x="396" y="55" width="3" height="9" fill="#ff0000"/>
<rect x="397" y="56" width="1" height="7" fill="#ff4500"/>
<rect x="401" y="49" width="1" height="16" fill="#ff0000"/>
<rect x="400" y="50" width="3" height="6" fill="#ff0000"/>
<rect x="401" y="51" width="1" height="4" fill="#ff4500"/>
<rect x="405" y="48" width="1" height="29" fill="#32cd32"/>
<rect x="404" y="50" width="3" height="26" fill="#32cd32"/>
<rect x="409" y="65" width="1" height="48" fill="#32cd32"/>
<rect x="408" y="74" width="3" height="33" fill="#32cd32"/>
<rect x="413" y="102" width="1" height="30" fill="#32cd32"/>
<rect x="412" y="106" width="3" height="24" fill="#32cd32"/>
<rect x="417" y="123" width="1" height="59" fill="#32cd32"/>
<rect x="416" y="129" width="3" height="34" fill="#32cd32"/>
<rect x="421" y="159" width="1" height="40" fill="#32cd32"/>
<rect x="420" y="165" width="3" height="27" fill="#32cd32"/>
<rect x="425" y="164" width="1" height="30" fill="#ff0000"/>
<rect x="424" y="171" width="3" height="22" fill="#ff0000"/>
<rect x="425" y="172" width="1" height="20" fill="#ff4500"/>
<rect x="429" y="155" width="1" height="48" fill="#ff0000"/>
<rect x="428" y="161" width="3" height="10" fill="#ff0000"/>
<rect x="429" y="162" width="1" height="8" fill="#ff4500"/>
<rect x="433" y="160" width="1" height="99" fill="#32cd32"/>
<rect x="432" y="161" width="3" height="87" fill="#32cd32"/>
<rect x="437" y="242" width="1" height="80" fill="#32cd32"/>
<rect x="436" y="247" width="3" height="55" fill="#32cd32"/>
<rect x="441" y="223" width="1" height="87" fill="#ff0000"/>
<rect x="440" y="225" width="3" height="77" fill="#ff0000"/>
<rect x="441" y="226" width="1" height="75" fill="#ff4500"/>
<rect x="445" y="205" width="1" height="41" fill="#32cd32"/>
<rect x="444" y="225" width="3" height="12" fill="#32cd32"/>
<rect x="449" y="195" width="1" height="43" fill="#ff0000"/>
<rect x="448" y="197" width="3" height="23" fill="#ff0000"/>
<rect x="449" y="198" width="1" height="21" fill="#ff4500"/>
<rect x="453" y="169" width="1" height="39" fill="#ff0000"/>
<rect x="452" y="171" width="3" height="27" fill="#ff0000"/>
<rect x="453" y="172" width="1" height="25" fill="#ff4500"/>
<rect x="457" y="159" width="1" height="23" fill="#32cd32"/>
<rect x="456" y="171" width="3" height="3" fill="#32cd32"/>
<rect x="461" y="160" width="1" height="24" fill="#32cd32"/>
<rect x="460" y="173" width="3" height="6" fill="#32cd32"/>
<rect x="465" y="170" width="1" height="28" fill="#32cd32"/>
<rect x="464" y="179" width="3" height="18" fill="#32cd32"/>
<rect x="469" y="186" width="1" height="13" fill="#ff0000"/>
<rect x="468" y="188" width="3" height="9" fill="#ff0000"/>
<rect x="469" y="189" width="1" height="7" fill="#ff4500"/>
<rect x="473" y="169" width="1" height="33" fill="#ff0000"/>
<rect x="472" y="174" width="3" height="19" fill="#ff0000"/>
<rect x="473" y="175" width="1" height="17" fill="#ff4500"/>
<rect x="477" y="170" width="1" height="22" fill="#32cd32"/>
<rect x="476" y="174" width="3" height="2" fill="#32cd32"/>
<rect x="481" y="175" width="1" height="15" fill="#32cd32"/>
<rect x="480" y="176" width="3" height="6" fill="#32cd32"/>
<rect x="485" y="173" width="1" height="21" fill="#ff0000"/>
<rect x="484" y="181" width="3" height="1" fill="#ff0000"/>
<rect x="489" y="165" width="1" height="17" fill="#ff0000"/>
<rect x="488" y="175" width="3" height="7" fill="#ff0000"/>
<rect x="489" y="176" width="1" height="5" fill="#ff4500"/>
<rect x="493" y="169" width="1" height="16" fill="#32cd32"/>
<rect x="492" y="175" width="3" height="7" fill="#32cd32"/>
<rect x="497" y="139" width="1" height="51" fill="#ff0000"/>
<rect x="496" y="169" width="3" height="13" fill="#ff0000"/>
<rect x="497" y="170" width="1" height="11" fill="#ff4500"/>
<rect x="501" y="150" width="1" height="21" fill="#ff0000"/>
<rect x="500" y="163" width="3" height="7" fill="#ff0000"/>
<rect x="501" y="164" width="1" height="5" fill="#ff4500"/>
<rect x="505" y="160" width="1" height="42" fill="#32cd32"/>
<rect x="504" y="163" width="3" height="27" fill="#32cd32"/>
<rect x="509" y="175" width="1" height="22" fill="#ff0000"/>
<rect x="508" y="177" width="3" height="13" fill="#ff0000"/>
<rect x="509" y="178" width="1" height="11" fill="#ff4500"/>
<rect x="513" y="174" width="1" height="16" fill="#32cd32"/>
<rect x="512" y="177" width="3" height="9" fill="#32cd32"/>
<rect x="517" y="171" width="1" height="24" fill="#ff0000"/>
<rect x="516" y="175" width="3" height="10" fill="#ff0000"/>
<rect x="517" y="176" width="1" height="8" fill="#ff4500"/>
<rect x="521" y="153" width="1" height="24" fill="#ff0000"/>
<rect x="520" y="156" width="3" height="20" fill="#ff0000"/>
<rect x="521" y="157" width="1" height="18" fill="#ff4500"/>
<rect x="525" y="154" width="1" height="18" fill="#32cd32"/>
<rect x="524" y="155" width="3" height="17" fill="#32cd32"/>
<rect x="529" y="157" width="1" height="16" fill="#ff0000"/>
<rect x="528" y="165" width="3" height="6" fill="#ff0000"/>
<rect x="529" y="166" width="1" height="4" fill="#ff4500"/>
<rect x="533" y="153" width="1" height="16" fill="#ff0000"/>
<rect x="532" y="158" width="3" height="8" fill="#ff0000"/>
<rect x="533" y="159" width="1" height="6" fill="#ff4500"/>
<rect x="537" y="134" width="1" height="26" fill="#ff0000"/>
<rect x="536" y="136" width="3" height="24" fill="#ff0000"/>
<rect x="537" y="137" width="1" height="22" fill="#ff4500"/>
<rect x="541" y="133" width="1" height="14" fill="#32cd32"/>
<rect x="540" y="136" width="3" height="5" fill="#32cd32"/>
<rect x="545" y="119" width="1" height="24" fill="#ff0000"/>
<rect x="544" y="125" width="3" height="16" fill="#ff0000"/>
<rect x="545" y="126" width="1" height="14" fill="#ff4500"/>
<rect x="549" y="117" width="1" height="14" fill="#32cd32"/>
<rect x="548" y="125" width="3" height="2" fill="#32cd32"/>
<rect x="553" y="123" width="1" height="10" fill="#32cd32"/>
<rect x="552" y="125" width="3" height="7" fill="#32cd32"/>
<rect x="557" y="113" width="1" height="19" fill="#ff0000"/>
<rect x="556" y="115" width="3" height="17" fill="#ff0000"/>
<rect x="557" y="116" width="1" height="15" fill="#ff4500"/>
<rect x="561" y="105" width="1" height="18" fill="#32cd32"/>
<rect x="560" y="115" width="3" height="6" fill="#32cd32"/>
<rect x="565" y="105" width="1" height="25" fill="#ff0000"/>
<rect x="564" y="107" width="3" height="10" fill="#ff0000"/>
<rect x="565" y="108" width="1" height="8" fill="#ff4500"/>
<rect x="569" y="83" width="1" height="27" fill="#ff0000"/>
<rect x="568" y="84" width="3" height="24" fill="#ff0000"/>
<rect x="569" y="85" width="1" height="22" fill="#ff4500"/>
<rect x="573" y="75" width="1" height="24" fill="#32cd32"/>
<rect x="572" y="83" width="3" height="5" fill="#32cd32"/>
<rect x="577" y="83" width="1" height="18" fill="#ff0000"/>
<rect x="576" y="85" width="3" height="2" fill="#ff0000"/>
<rect x="581" y="77" width="1" height="12" fill="#ff0000"/>
<rect x="580" y="81" width="3" height="5" fill="#ff0000"/>
<rect x="581" y="82" width="1" height="3" fill="#ff4500"/>
<rect x="585" y="75" width="1" height="17" fill="#ff0000"/>
<rect x="584" y="81" width="3" height="1" fill="#ff0000"/>
<rect x="589" y="71" width="1" height="55" fill="#32cd32"/>
<rect x="588" y="81" width="3" height="39" fill="#32cd32"/>
<rect x="593" y="108" width="1" height="20" fill="#ff0000"/>
<rect x="592" y="114" width="3" height="7" fill="#ff0000"/>
<rect x="593" y="115" width="1" height="5" fill="#ff4500"/>
<rect x="597" y="93" width="1" height="26" fill="#ff0000"/>
<rect x="596" y="102" width="3" height="14" fill="#ff0000"/>
<rect x="597" y="103" width="1" height="12" fill="#ff4500"/>
<rect x="601" y="94" width="1" height="24" fill="#32cd32"/>
<rect x="600" y="102" width="3" height="15" fill="#32cd32"/>
<rect x="605" y="107" width="1" height="18" fill="#32cd32"/>
<rect x="604" y="115" width="3" height="3" fill="#32cd32"/>
<rect x="609" y="114" width="1" height="16" fill="#32cd32"/>
<rect x="608" y="117" width="3" height="9" fill="#32cd32"/>
<rect x="613" y="106" width="1" height="33" fill="#ff0000"/>
<rect x="612" y="120" width="3" height="6" fill="#ff0000"/>
<rect x="613" y="121" width="1" height="4" fill="#ff4500"/>
<rect x="617" y="110" width="1" height="14" fill="#ff0000"/>
<rect x="616" y="117" width="3" height="3" fill="#ff0000"/>
<rect x="617" y="118" width="1" height="1" fill="#ff4500"/>
<rect x="621" y="106" width="1" height="13" fill="#ff0000"/>
<rect x="620" y="115" width="3" height="3" fill="#ff0000"/>
<rect x="621" y="116" width="1" height="1" fill="#ff4500"/>
<rect x="625" y="110" width="1" height="20" fill="#32cd32"/>
<rect x="624" y="113" width="3" height="10" fill="#32cd32"/>
<rect x="629" y="115" width="1" height="16" fill="#32cd32"/>
<rect x="628" y="122" width="3" height="8" fill="#32cd32"/>
<rect x="633" y="123" width="1" height="12" fill="#ff0000"/>
<rect x="632" y="128" width="3" height="3" fill="#ff0000"/>
<rect x="633" y="129" width="1" height="1" fill="#ff4500"/>
<rect x="637" y="123" width="1" height="29" fill="#32cd32"/>
<rect x="636" y="128" width="3" height="21" fill="#32cd32"/>
<rect x="641" y="144" width="1" height="23" fill="#32cd32"/>
<rect x="640" y="149" width="3" height="8" fill="#32cd32"/>
<rect x="645" y="131" width="1" height="34" fill="#ff0000"/>
<rect x="644" y="144" width="3" height="13" fill="#ff0000"/>
<rect x="645" y="145" width="1" height="11" fill="#ff4500"/>
<rect x="649" y="142" width="1" height="15" fill="#32cd32"/>
<rect x="648" y="144" width="3" height="8" fill="#32cd32"/>
<rect x="653" y="146" width="1" height="42" fill="#32cd32"/>
<rect x="652" y="152" width="3" height="31" fill="#32cd32"/>
<rect x="657" y="147" width="1" height="36" fill="#ff0000"/>
<rect x="656" y="158" width="3" height="24" fill="#ff0000"/>
<rect x="657" y="159" width="1" height="22" fill="#ff4500"/>
<rect x="661" y="146" width="1" height="28" fill="#ff0000"/>
<rect x="660" y="154" width="3" height="7" fill="#ff0000"/>
<rect x="661" y="155" width="1" height="5" fill="#ff4500"/>
<rect x="665" y="124" width="1" height="34" fill="#ff0000"/>
<rect x="664" y="128" width="3" height="27" fill="#ff0000"/>
<rect x="665" y="129" width="1" height="25" fill="#ff4500"/>
<rect x="669" y="126" width="1" height="15" fill="#32cd32"/>
<rect x="668" y="130" width="3" height="1" fill="#32cd32"/>
<rect x="673" y="128" width="1" height="51" fill="#32cd32"/>
<rect x="672" y="130" width="3" height="42" fill="#32cd32"/>
<rect x="677" y="169" width="1" height="29" fill="#32cd32"/>
<rect x="676" y="173" width="3" height="5" fill="#32cd32"/>
<rect x="681" y="159" width="1" height="1" fill="#000000"/>
<rect x="680" y="159" width="3" height="1" fill="#000000"/>
<rect x="685" y="143" width="1" height="33" fill="#ff0000"/>
<rect x="684" y="145" width="3" height="15" fill="#ff0000"/>
<rect x="685" y="146" width="1" height="13" fill="#ff4500"/>
<rect x="689" y="137" width="1" height="16" fill="#ff0000"/>
<rect x="688" y="144" width="3" height="2" fill="#ff0000"/>
<rect x="693" y="136" width="1" height="16" fill="#ff0000"/>
<rect x="692" y="140" width="3" height="4" fill="#ff0000"/>
<rect x="693" y="141" width="1" height="2" fill="#ff4500"/>
<rect x="697" y="134" width="1" height="22" fill="#32cd32"/>
<rect x="696" y="140" width="3" height="13" fill="#32cd32"/>
<rect x="701" y="137" width="1" height="19" fill="#ff0000"/>
<rect x="700" y="152" width="3" height="3" fill="#ff0000"/>
<rect x="701" y="153" width="1" height="1" fill="#ff4500"/>
<rect x="705" y="146" width="1" height="10" fill="#ff0000"/>
<rect x="704" y="149" width="3" height="4" fill="#ff0000"/>
<rect x="705" y="150" width="1" height="2" fill="#ff4500"/>
<rect x="709" y="131" width="1" height="21" fill="#ff0000"/>
<rect x="708" y="139" width="3" height="9" fill="#ff0000"/>
<rect x="709" y="140" width="1" height="7" fill="#ff4500"/>
<rect x="713" y="135" width="1" height="17" fill="#ff0000"/>
<rect x="712" y="138" width="3" height="2" fill="#ff0000"/>
<rect x="717" y="128" width="1" height="24" fill="#ff0000"/>
<rect x="716" y="134" width="3" height="5" fill="#ff0000"/>
<rect x="717" y="135" width="1" height="3" fill="#ff4500"/>
<rect x="721" y="122" width="1" height="22" fill="#32cd32"/>
<rect x="720" y="134" width="3" height="2" fill="#32cd32"/>
<rect x="725" y="124" width="1" height="14" fill="#ff0000"/>
<rect x="724" y="127" width="3" height="9" fill="#ff0000"/>
<rect x="725" y="128" width="1" height="7" fill="#ff4500"/>
<rect x="729" y="118" width="1" height="15" fill="#ff0000"/>
<rect x="728" y="127" width="3" height="2" fill="#ff0000"/>
<rect x="733" y="113" width="1" height="20" fill="#32cd32"/>
<rect x="732" y="127" width="3" height="2" fill="#32cd32"/>
<rect x="737" y="127" width="1" height="19" fill="#32cd32"/>
<rect x="736" y="128" width="3" height="11" fill="#32cd32"/>
<rect x="741" y="136" width="1" height="19" fill="#32cd32"/>
<rect x="740" y="138" width="3" height="12" fill="#32cd32"/>
<rect x="745" y="144" width="1" height="28" fill="#32cd32"/>
<rect x="744" y="150" width="3" height="12" fill="#32cd32"/>
<rect x="749" y="159" width="1" height="16" fill="#32cd32"/>
<rect x="748" y="162" width="3" height="9" fill="#32cd32"/>
<rect x="753" y="158" width="1" height="14" fill="#ff0000"/>
<rect x="752" y="160" width="3" height="10" fill="#ff0000"/>
<rect x="753" y="161" width="1" height="8" fill="#ff4500"/>
<rect x="757" y="153" width="1" height="27" fill="#32cd32"/>
<rect x="756" y="160" width="3" height="9" fill="#32cd32"/>
<rect x="761" y="158" width="1" height="20" fill="#ff0000"/>
<rect x="760" y="163" width="3" height="6" fill="#ff0000"/>
<rect x="761" y="164" width="1" height="4" fill="#ff4500"/>
<rect x="765" y="156" width="1" height="14" fill="#32cd32"/>
<rect x="764" y="163" width="3" height="4" fill="#32cd32"/>
<rect x="769" y="157" width="1" height="11" fill="#ff0000"/>
<rect x="768" y="159" width="3" height="8" fill="#ff0000"/>
<rect x="769" y="160" width="1" height="6" fill="#ff4500"/>
<rect x="773" y="158" width="1" height="9" fill="#32cd32"/>
<rect x="772" y="161" width="3" height="6" fill="#32cd32"/>
<rect x="777" y="157" width="1" height="14" fill="#ff0000"/>
<rect x="776" y="158" width="3" height="8" fill="#ff0000"/>
<rect x="777" y="159" width="1" height="6" fill="#ff4500"/>
<rect x="781" y="146" width="1" height="23" fill="#ff0000"/>
<rect x="780" y="152" width="3" height="9" fill="#ff0000"/>
<rect x="781" y="153" width="1" height="7" fill="#ff4500"/>
<rect x="785" y="137" width="1" height="18" fill="#ff0000"/>
<rect x="784" y="139" width="3" height="14" fill="#ff0000"/>
<rect x="785" y="140" width="1" height="12" fill="#ff4500"/>
<rect x="789" y="120" width="1" height="22" fill="#ff0000"/>
<rect x="788" y="128" width="3" height="13" fill="#ff0000"/>
<rect x="789" y="129" width="1" height="11" fill="#ff4500"/>
<rect x="793" y="122" width="1" height="12" fill="#32cd32"/>
<rect x="792" y="128" width="3" height="2" fill="#32cd32"/>
<rect x="797" y="119" width="1" height="14" fill="#ff0000"/>
<rect x="796" y="120" width="3" height="10" fill="#ff0000"/>
<rect x="797" y="121" width="1" height="8" fill="#ff4500"/>
<rect x="801" y="123" width="1" height="15" fill="#32cd32"/>
<rect x="800" y="131" width="3" height="2" fill="#32cd32"/>
<rect x="805" y="132" width="1" height="23" fill="#32cd32"/>
<rect x="804" y="133" width="3" height="17" fill="#32cd32"/>
<rect x="809" y="137" width="1" height="19" fill="#ff0000"/>
<rect x="808" y="138" width="3" height="12" fill="#ff0000"/>
<rect x="809" y="139" width="1" height="10" fill="#ff4500"/>
<rect x="813" y="133" width="1" height="11" fill="#32cd32"/>
<rect x="812" y="137" width="3" height="5" fill="#32cd32"/>
<rect x="817" y="129" width="1" height="13" fill="#ff0000"/>
<rect x="816" y="132" width="3" height="9" fill="#ff0000"/>
<rect x="817" y="133" width="1" height="7" fill="#ff4500"/>
<rect x="821" y="108" width="1" height="28" fill="#ff0000"/>
<rect x="820" y="123" width="3" height="8" fill="#ff0000"/>
<rect x="821" y="124" width="1" height="6" fill="#ff4500"/>
<rect x="825" y="113" width="1" height="16" fill="#32cd32"/>
<rect x="824" y="123" width="3" height="4" fill="#32cd32"/>
<rect x="829" y="109" width="1" height="42" fill="#ff0000"/>
<rect x="828" y="120" width="3" height="7" fill="#ff0000"/>
<rect x="829" y="121" width="1" height="5" fill="#ff4500"/>
<rect x="833" y="115" width="1" height="16" fill="#32cd32"/>
<rect x="832" y="120" width="3" height="7" fill="#32cd32"/>
<rect x="837" y="107" width="1" height="21" fill="#ff0000"/>
<rect x="836" y="108" width="3" height="18" fill="#ff0000"/>
<rect x="837" y="109" width="1" height="16" fill="#ff4500"/>
<rect x="841" y="95" width="1" height="15" fill="#ff0000"/>
<rect x="840" y="100" width="3" height="9" fill="#ff0000"/>
<rect x="841" y="101" width="1" height="7" fill="#ff4500"/>
<rect x="845" y="99" width="1" height="13" fill="#32cd32"/>
<rect x="844" y="99" width="3" height="12" fill="#32cd32"/>
<rect x="849" y="103" width="1" height="13" fill="#32cd32"/>
<rect x="848" y="108" width="3" height="2" fill="#32cd32"/>
<rect x="853" y="104" width="1" height="13" fill="#ff0000"/>
<rect x="852" y="106" width="3" height="4" fill="#ff0000"/>
<rect x="853" y="107" width="1" height="2" fill="#ff4500"/>
<rect x="857" y="99" width="1" height="11" fill="#ff0000"/>
<rect x="856" y="106" width="3" height="1" fill="#ff0000"/>
<rect x="861" y="95" width="1" height="17" fill="#ff0000"/>
<rect x="860" y="101" width="3" height="6" fill="#ff0000"/>
<rect x="861" y="102" width="1" height="4" fill="#ff4500"/>
<rect x="865" y="100" width="1" height="51" fill="#32cd32"/>
<rect x="864" y="101" width="3" height="41" fill="#32cd32"/>
<rect x="869" y="132" width="1" height="12" fill="#ff0000"/>
<rect x="868" y="135" width="3" height="8" fill="#ff0000"/>
<rect x="869" y="136" width="1" height="6" fill="#ff4500"/>
<rect x="873" y="123" width="1" height="18" fill="#32cd32"/>
<rect x="872" y="135" width="3" height="2" fill="#32cd32"/>
<rect x="877" y="135" width="1" height="21" fill="#32cd32"/>
<rect x="876" y="137" width="3" height="3" fill="#32cd32"/>
<rect x="881" y="123" width="1" height="19" fill="#ff0000"/>
<rect x="880" y="131" width="3" height="9" fill="#ff0000"/>
<rect x="881" y="132" width="1" height="7" fill="#ff4500"/>
<rect x="885" y="129" width="1" height="24" fill="#32cd32"/>
<rect x="884" y="130" width="3" height="11" fill="#32cd32"/>
<rect x="889" y="132" width="1" height="20" fill="#32cd32"/>
<rect x="888" y="140" width="3" height="7" fill="#32cd32"/>
<rect x="893" y="133" width="1" height="17" fill="#ff0000"/>
<rect x="892" y="143" width="3" height="4" fill="#ff0000"/>
<rect x="893" y="144" width="1" height="2" fill="#ff4500"/>
<rect x="897" y="127" width="1" height="20" fill="#ff0000"/>
<rect x="896" y="136" width="3" height="10" fill="#ff0000"/>
<rect x="897" y="137" width="1" height="8" fill="#ff4500"/>
<rect x="901" y="126" width="1" height="13" fill="#ff0000"/>
<rect x="900" y="127" width="3" height="9" fill="#ff0000"/>
<rect x="901" y="128" width="1" height="7" fill="#ff4500"/>
<rect x="905" y="119" width="1" height="19" fill="#ff0000"/>
<rect x="904" y="126" width="3" height="1" fill="#ff0000"/>
<rect x="909" y="100" width="1" height="36" fill="#ff0000"/>
<rect x="908" y="101" width="3" height="26" fill="#ff0000"/>
<rect x="909" y="102" width="1" height="24" fill="#ff4500"/>
<rect x="913" y="99" width="1" height="23" fill="#32cd32"/>
<rect x="912" y="100" width="3" height="16" fill="#32cd32"/>
<rect x="917" y="165" width="1" height="18" fill="#32cd32"/>
<rect x="916" y="179" width="3" height="4" fill="#32cd32"/>
<rect x="921" y="182" width="1" height="84" fill="#32cd32"/>
<rect x="920" y="183" width="3" height="65" fill="#32cd32"/>
<rect x="925" y="231" width="1" height="35" fill="#ff0000"/>
<rect x="924" y="236" width="3" height="12" fill="#ff0000"/>
<rect x="925" y="237" width="1" height="10" fill="#ff4500"/>
<rect x="929" y="226" width="1" height="40" fill="#32cd32"/>
<rect x="928" y="236" width="3" height="25" fill="#32cd32"/>
<rect x="933" y="258" width="1" height="21" fill="#32cd32"/>
<rect x="932" y="260" width="3" height="2" fill="#32cd32"/>
<rect x="937" y="261" width="1" height="18" fill="#32cd32"/>
<rect x="936" y="262" width="3" height="16" fill="#32cd32"/>
<rect x="941" y="258" width="1" height="64" fill="#32cd32"/>
<rect x="940" y="276" width="3" height="46" fill="#32cd32"/>
<rect x="945" y="320" width="1" height="43" fill="#32cd32"/>
<rect x="944" y="320" width="3" height="22" fill="#32cd32"/>
<rect x="949" y="337" width="1" height="40" fill="#32cd32"/>
<rect x="948" y="341" width="3" height="14" fill="#32cd32"/>
<rect x="953" y="331" width="1" height="47" fill="#ff0000"/>
<rect x="952" y="337" width="3" height="19" fill="#ff0000"/>
<rect x="953" y="338" width="1" height="17" fill="#ff4500"/>
<rect x="957" y="318" width="1" height="30" fill="#ff0000"/>
<rect x="956" y="337" width="3" height="1" fill="#ff0000"/>
<rect x="961" y="317" width="1" height="24" fill="#ff0000"/>
<rect x="960" y="318" width="3" height="20" fill="#ff0000"/>
<rect x="961" y="319" width="1" height="18" fill="#ff4500"/>
<rect x="965" y="286" width="1" height="50" fill="#ff0000"/>
<rect x="964" y="288" width="3" height="30" fill="#ff0000"/>
<rect x="965" y="289" width="1" height="28" fill="#ff4500"/>
<rect x="969" y="278" width="1" height="28" fill="#32cd32"/>
<rect x="968" y="289" width="3" height="5" fill="#32cd32"/>
<rect x="973" y="286" width="1" height="30" fill="#32cd32"/>
<rect x="972" y="294" width="3" height="21" fill="#32cd32"/>
<rect x="977" y="296" width="1" height="20" fill="#ff0000"/>
<rect x="976" y="302" width="3" height="13" fill="#ff0000"/>
<rect x="977" y="303" width="1" height="11" fill="#ff4500"/>
<rect x="981" y="297" width="1" height="16" fill="#32cd32"/>
<rect x="980" y="303" width="3" height="2" fill="#32cd32"/>
<rect x="985" y="290" width="1" height="25" fill="#ff0000"/>
<rect x="984" y="291" width="3" height="14" fill="#ff0000"/>
<rect x="985" y="292" width="1" height="12" fill="#ff4500"/>
<rect x="989" y="252" width="1" height="40" fill="#ff0000"/>
<rect x="988" y="252" width="3" height="40" fill="#ff0000"/>
<rect x="989" y="253" width="1" height="38" fill="#ff4500"/>
<rect x="993" y="217" width="1" height="45" fill="#ff0000"/>
<rect x="992" y="251" width="3" height="3" fill="#ff0000"/>
<rect x="993" y="252" width="1" height="1" fill="#ff4500"/>
<rect x="997" y="205" width="1" height="56" fill="#ff0000"/>
<rect x="996" y="228" width="3" height="22" fill="#ff0000"/>
<rect x="997" y="229" width="1" height="20" fill="#ff4500"/>
<rect x="1001" y="221" width="1" height="42" fill="#32cd32"/>
<rect x="1000" y="228" width="3" height="20" fill="#32cd32"/>
<rect x="1005" y="229" width="1" height="27" fill="#ff0000"/>
<rect x="1004" y="247" width="3" height="1" fill="#ff0000"/>
<rect x="1009" y="247" width="1" height="25" fill="#32cd32"/>
<rect x="1008" y="247" width="3" height="19" fill="#32cd32"/>
<rect x="1013" y="241" width="1" height="51" fill="#32cd32"/>
<rect x="1012" y="265" width="3" height="19" fill="#32cd32"/>
<rect x="1017" y="253" width="1" height="36" fill="#ff0000"/>
<rect x="1016" y="256" width="3" height="28" fill="#ff0000"/>
<rect x="1017" y="257" width="1" height="26" fill="#ff4500"/>
<rect x="1021" y="238" width="1" height="24" fill="#ff0000"/>
<rect x="1020" y="241" width="3" height="15" fill="#ff0000"/>
<rect x="1021" y="242" width="1" height="13" fill="#ff4500"/>
<rect x="1025" y="241" width="1" height="40" fill="#32cd32"/>
<rect x="1024" y="241" width="3" height="16" fill="#32cd32"/>
<rect x="1029" y="238" width="1" height="23" fill="#ff0000"/>
<rect x="1028" y="255" width="3" height="1" fill="#ff0000"/>
<rect x="1033" y="255" width="1" height="1" fill="#000000"/>
<rect x="1032" y="255" width="3" height="1" fill="#000000"/>
<rect x="1037" y="215" width="1" height="19" fill="#32cd32"/>
<rect x="1036" y="215" width="3" height="16" fill="#32cd32"/>
<path d="M5 457h1v1h-1zM6 455h1v2h-1zM7 453h1v2h-1zM8 451h1v2h-1zM9 450h1v1h-1zM10 449h1v1h-1zM11 448h1v1h-1zM12 447h1v1h-1zM13 446h1v2h-1zM14 448h1v2h-1zM15 450h1v3h-1zM16 453h1v2h-1zM17 455h1v2h-1zM18 457h1v2h-1zM19 459h1v2h-1zM20 461h1v2h-1zM21 463h1v2h-1zM22 465h1v1h-1zM23 465h1v1h-1zM24 466h1v1h-1zM25 466h1v1h-1zM26 464h1v2h-1zM27 462h1v2h-1zM28 460h1v2h-1zM29 458h1v2h-1zM30 459h1v1h-1zM31 459h1v1h-1zM32 460h1v1h-1zM33 459h1v2h-1zM34 457h1v2h-1zM35 455h1v2h-1zM36 453h1v2h-1zM37 451h1v2h-1zM38 452h1v2h-1zM39 454h1v2h-1zM40 456h1v2h-1zM41 458h1v2h-1zM42 458h1v1h-1zM43 457h1v1h-1zM44 457h1v1h-1zM45 456h1v1h-1zM46 456h1v1h-1zM47 456h1v1h-1zM48 456h1v1h-1zM49 456h1v1h-1zM50 454h1v2h-1zM51 453h1v1h-1zM52 451h1v2h-1zM53 450h1v1h-1zM54 451h1v2h-1zM55 453h1v1h-1zM56 454h1v2h-1zM57 456h1v3h-1zM58 459h1v5h-1zM59 464h1v6h-1zM60 470h1v5h-1zM61 475h1v4h-1zM62 479h1v3h-1zM63 482h1v2h-1zM64 484h1v3h-1zM65 487h1v3h-1zM66 490h1v2h-1zM67 492h1v3h-1zM68 495h1v2h-1zM69 497h1v2h-1zM70 496h1v2h-1zM71 494h1v2h-1zM72 492h1v2h-1zM73 489h1v3h-1zM74 486h1v3h-1zM75 482h1v4h-1zM76 479h1v3h-1zM77 477h1v2h-1zM78 476h1v1h-1zM79 474h1v2h-1zM80 473h1v1h-1zM81 472h1v1h-1zM82 472h1v1h-1zM83 473h1v1h-1zM84 473h1v1h-1zM85 472h1v2h-1zM86 470h1v2h-1zM87 467h1v3h-1zM88 465h1v2h-1zM89 463h1v2h-1zM90 463h1v1h-1zM91 463h1v1h-1zM92 463h1v1h-1zM93 463h1v1h-1zM94 464h1v1h-1zM95 465h1v1h-1zM96 466h1v1h-1zM97 467h1v1h-1zM98 466h1v1h-1zM99 464h1v2h-1zM100 463h1v1h-1zM101 462h1v1h-1zM102 463h1v1h-1zM103 464h1v2h-1zM104 466h1v1h-1zM105 467h1v1h-1zM106 467h1v1h-1zM107 467h1v1h-1zM108 467h1v1h-1zM109 467h1v1h-1zM110 466h1v1h-1zM111 464h1v2h-1zM112 463h1v1h-1zM113 462h1v1h-1zM114 463h1v1h-1zM115 463h1v1h-1zM116 464h1v1h-1zM117 464h1v1h-1zM118 464h1v1h-1zM119 465h1v1h-1zM120 465h1v1h-1zM121 465h1v1h-1zM122 466h1v2h-1zM123 468h1v1h-1zM124 469h1v2h-1zM125 471h1v1h-1zM126 472h1v2h-1zM127 474h1v1h-1zM128 475h1v2h-1zM129 477h1v1h-1zM130 476h1v1h-1zM131 475h1v1h-1zM132 475h1v1h-1zM133 474h1v1h-1zM134 473h1v1h-1zM135 472h1v1h-1zM136 472h1v1h-1zM137 471h1v1h-1zM138 472h1v1h-1zM139 473h1v1h-1zM140 473h1v1h-1zM141 474h1v1h-1zM142 472h1v2h-1zM143 470h1v2h-1zM144 468h1v2h-1zM145 466h1v2h-1zM146 465h1v1h-1zM147 465h1v1h-1zM148 464h1v1h-1zM149 464h1v1h-1zM150 463h1v1h-1zM151 462h1v1h-1zM152 461h1v1h-1zM153 460h1v1h-1zM154 461h1v1h-1zM155 461h1v1h-1zM156 462h1v1h-1zM157 462h1v1h-1zM158 461h1v1h-1zM159 460h1v1h-1zM160 459h1v1h-1zM161 458h1v1h-1zM162 458h1v1h-1zM163 459h1v1h-1zM164 459h1v1h-1zM165 459h1v1h-1zM166 458h1v1h-1zM167 456h1v2h-1zM168 455h1v1h-1zM169 454h1v1h-1zM170 453h1v1h-1zM171 452h1v1h-1zM172 452h1v1h-1zM173 451h1v1h-1zM174 450h1v1h-1zM175 448h1v2h-1zM176 447h1v1h-1zM177 446h1v1h-1zM178 445h1v1h-1zM179 444h1v1h-1zM180 443h1v1h-1zM181 442h1v1h-1zM182 443h1v1h-1zM183 444h1v2h-1zM184 446h1v1h-1zM185 447h1v1h-1zM186 447h1v1h-1zM187 446h1v1h-1zM188 446h1v1h-1zM189 446h1v2h-1zM190 448h1v3h-1zM191 451h1v3h-1zM192 454h1v3h-1zM193 457h1v2h-1zM194 459h1v1h-1zM195 459h1v1h-1zM196 460h1v1h-1zM197 460h1v2h-1zM198 462h1v3h-1zM199 465h1v3h-1zM200 468h1v3h-1zM201 471h1v2h-1zM202 470h1v2h-1zM203 469h1v1h-1zM204 467h1v2h-1zM205 466h1v1h-1zM206 464h1v2h-1zM207 462h1v2h-1zM208 460h1v2h-1zM209 459h1v1h-1zM210 459h1v1h-1zM211 459h1v1h-1zM212 459h1v1h-1zM213 459h1v2h-1zM214 461h1v2h-1zM215 463h1v2h-1zM216 465h1v2h-1zM217 467h1v2h-1zM218 466h1v2h-1zM219 464h1v2h-1zM220 462h1v2h-1zM221 461h1v1h-1zM222 459h1v2h-1zM223 458h1v1h-1zM224 456h1v2h-1zM225 455h1v1h-1zM226 454h1v1h-1zM227 454h1v1h-1zM228 453h1v1h-1zM229 453h1v1h-1zM230 454h1v1h-1zM231 455h1v2h-1zM232 457h1v1h-1zM233 458h1v1h-1zM234 459h1v1h-1zM235 459h1v1h-1zM236 460h1v1h-1zM237 460h1v1h-1zM238 459h1v1h-1zM239 459h1v1h-1zM240 458h1v1h-1zM241 458h1v1h-1zM242 458h1v1h-1zM243 459h1v1h-1zM244 459h1v1h-1zM245 459h1v1h-1zM246 458h1v1h-1zM247 458h1v1h-1zM248 457h1v1h-1zM249 457h1v1h-1zM250 457h1v1h-1zM251 457h1v1h-1zM252 457h1v1h-1zM253 457h1v1h-1zM254 458h1v2h-1zM255 460h1v2h-1zM256 462h1v2h-1zM257 464h1v1h-1zM258 464h1v1h-1zM259 464h1v1h-1zM260 464h1v1h-1zM261 464h1v1h-1zM262 464h1v1h-1zM263 464h1v1h-1zM264 464h1v1h-1zM265 464h1v1h-1zM266 463h1v1h-1zM267 461h1v2h-1zM268 460h1v1h-1zM269 459h1v1h-1zM270 457h1v2h-1zM271 456h1v1h-1zM272 454h1v2h-1zM273 453h1v1h-1zM274 451h1v2h-1zM275 450h1v1h-1zM276 448h1v2h-1zM277 447h1v2h-1zM278 449h1v3h-1zM279 452h1v2h-1zM280 454h1v3h-1zM281 457h1v2h-1zM282 458h1v1h-1zM283 459h1v1h-1zM284 459h1v1h-1zM285 459h1v1h-1zM286 459h1v1h-1zM287 458h1v1h-1zM288 458h1v1h-1zM289 457h1v2h-1zM290 454h1v3h-1zM291 452h1v2h-1zM292 449h1v3h-1zM293 447h1v2h-1zM294 449h1v4h-1zM295 453h1v4h-1zM296 457h1v4h-1zM297 461h1v2h-1zM298 460h1v2h-1zM299 458h1v2h-1zM300 456h1v2h-1zM301 454h1v2h-1zM302 454h1v1h-1zM303 454h1v1h-1zM304 454h1v1h-1zM305 454h1v1h-1zM306 455h1v1h-1zM307 456h1v2h-1zM308 458h1v1h-1zM309 457h1v3h-1zM310 453h1v4h-1zM311 448h1v5h-1zM312 444h1v4h-1zM313 441h1v3h-1zM314 444h1v4h-1zM315 448h1v4h-1zM316 452h1v4h-1zM317 456h1v3h-1zM318 457h1v1h-1zM319 455h1v2h-1zM320 454h1v1h-1zM321 453h1v2h-1zM322 455h1v3h-1zM323 458h1v3h-1zM324 461h1v3h-1zM325 464h1v2h-1zM326 466h1v1h-1zM327 466h1v1h-1zM328 467h1v1h-1zM329 466h1v2h-1zM330 464h1v2h-1zM331 461h1v3h-1zM332 459h1v2h-1zM333 457h1v2h-1zM334 458h1v1h-1zM335 459h1v2h-1zM336 461h1v1h-1zM337 462h1v1h-1zM338 461h1v1h-1zM339 461h1v1h-1zM340 460h1v1h-1zM341 460h1v1h-1zM342 459h1v1h-1zM343 458h1v1h-1zM344 457h1v1h-1zM345 456h1v1h-1zM346 455h1v1h-1zM347 453h1v2h-1zM348 452h1v1h-1zM349 451h1v1h-1zM350 450h1v1h-1zM351 449h1v1h-1zM352 449h1v1h-1zM353 448h1v1h-1zM354 448h1v1h-1zM355 448h1v1h-1zM356 448h1v1h-1zM357 448h1v1h-1zM358 449h1v1h-1zM359 450h1v1h-1zM360 451h1v1h-1zM361 452h1v1h-1zM362 452h1v1h-1zM363 451h1v1h-1zM364 451h1v1h-1zM365 451h1v1h-1zM366 452h1v2h-1zM367 454h1v1h-1zM368 455h1v2h-1zM369 457h1v1h-1zM370 456h1v1h-1zM371 454h1v2h-1zM372 453h1v1h-1zM373 452h1v1h-1zM374 452h1v1h-1zM375 451h1v1h-1zM376 451h1v1h-1zM377 451h1v1h-1zM378 451h1v1h-1zM379 450h1v1h-1zM380 450h1v1h-1zM381 450h1v1h-1zM382 449h1v1h-1zM383 448h1v1h-1zM384 447h1v1h-1zM385 446h1v1h-1zM386 447h1v2h-1zM387 449h1v2h-1zM388 451h1v2h-1zM389 453h1v2h-1zM390 455h1v1h-1zM391 456h1v1h-1zM392 456h1v1h-1zM393 457h1v1h-1zM394 456h1v1h-1zM395 454h1v2h-1zM396 453h1v1h-1zM397 452h1v1h-1zM398 451h1v1h-1zM399 450h1v1h-1zM400 450h1v1h-1zM401 449h1v3h-1zM402 452h1v6h-1zM403 458h1v5h-1zM404 463h1v6h-1zM405 469h1v4h-1zM406 473h1v4h-1zM407 477h1v4h-1zM408 481h1v4h-1zM409 485h1v3h-1zM410 488h1v2h-1zM411 490h1v2h-1zM412 492h1v2h-1zM413 494h1v3h-1zM414 497h1v2h-1zM415 499h1v2h-1zM416 501h1v2h-1zM417 503h1v2h-1zM418 505h1v2h-1zM419 507h1v2h-1zM420 509h1v2h-1zM421 511h1v2h-1zM422 508h1v3h-1zM423 505h1v3h-1zM424 502h1v3h-1zM425 500h1v2h-1zM426 499h1v1h-1zM427 497h1v2h-1zM428 496h1v1h-1zM429 495h1v2h-1zM430 497h1v4h-1zM431 501h1v4h-1zM432 505h1v4h-1zM433 509h1v3h-1zM434 512h1v2h-1zM435 514h1v2h-1zM436 516h1v2h-1zM437 516h1v4h-1zM438 509h1v7h-1zM439 503h1v6h-1zM440 496h1v7h-1zM441 492h1v4h-1zM442 493h1v1h-1zM443 493h1v1h-1zM444 494h1v1h-1zM445 493h1v2h-1zM446 490h1v3h-1zM447 488h1v2h-1zM448 485h1v3h-1zM449 483h1v2h-1zM450 481h1v2h-1zM451 479h1v2h-1zM452 477h1v2h-1zM453 476h1v1h-1zM454 476h1v1h-1zM455 476h1v1h-1zM456 476h1v1h-1zM457 476h1v1h-1zM458 477h1v1h-1zM459 477h1v1h-1zM460 478h1v1h-1zM461 478h1v1h-1zM462 479h1v1h-1zM463 480h1v1h-1zM464 481h1v1h-1zM465 482h1v1h-1zM466 481h1v1h-1zM467 480h1v1h-1zM468 480h1v1h-1zM469 479h1v1h-1zM470 478h1v1h-1zM471 477h1v1h-1zM472 476h1v1h-1zM473 475h1v1h-1zM474 475h1v1h-1zM475 476h1v1h-1zM476 476h1v1h-1zM477 476h1v1h-1zM478 476h1v1h-1zM479 477h1v1h-1zM480 477h1v1h-1zM481 477h1v1h-1zM482 477h1v1h-1zM483 477h1v1h-1zM484 477h1v1h-1zM485 477h1v1h-1zM486 476h1v1h-1zM487 475h1v1h-1zM488 475h1v1h-1zM489 474h1v1h-1zM490 475h1v1h-1zM491 476h1v1h-1zM492 476h1v1h-1zM493 477h1v1h-1zM494 475h1v2h-1zM495 474h1v1h-1zM496 472h1v2h-1zM497 471h1v1h-1zM498 471h1v1h-1zM499 470h1v1h-1zM500 470h1v1h-1zM501 470h1v2h-1zM502 472h1v2h-1zM503 474h1v3h-1zM504 477h1v2h-1zM505 479h1v2h-1zM506 478h1v2h-1zM507 477h1v1h-1zM508 475h1v2h-1zM509 474h1v1h-1zM510 475h1v1h-1zM511 476h1v1h-1zM512 476h1v1h-1zM513 477h1v1h-1zM514 476h1v1h-1zM515 475h1v1h-1zM516 474h1v1h-1zM517 473h1v1h-1zM518 471h1v2h-1zM519 469h1v2h-1zM520 467h1v2h-1zM521 465h1v2h-1zM522 466h1v2h-1zM523 468h1v1h-1zM524 469h1v2h-1zM525 471h1v1h-1zM526 470h1v1h-1zM527 470h1v1h-1zM528 469h1v1h-1zM529 469h1v1h-1zM530 468h1v1h-1zM531 467h1v1h-1zM532 467h1v1h-1zM533 466h1v1h-1zM534 464h1v2h-1zM535 462h1v2h-1zM536 460h1v2h-1zM537 458h1v2h-1zM538 459h1v1h-1zM539 459h1v1h-1zM540 460h1v1h-1zM541 460h1v1h-1zM542 459h1v1h-1zM543 457h1v2h-1zM544 456h1v1h-1zM545 455h1v1h-1zM546 455h1v1h-1zM547 455h1v1h-1zM548 455h1v1h-1zM549 455h1v1h-1zM550 456h1v1h-1zM551 457h1v1h-1zM552 457h1v1h-1zM553 458h1v1h-1zM554 456h1v2h-1zM555 455h1v1h-1zM556 453h1v2h-1zM557 452h1v1h-1zM558 453h1v1h-1zM559 453h1v1h-1zM560 454h1v1h-1zM561 454h1v1h-1zM562 453h1v1h-1zM563 452h1v1h-1zM564 451h1v1h-1zM565 450h1v1h-1zM566 448h1v2h-1zM567 446h1v2h-1zM568 444h1v2h-1zM569 442h1v2h-1zM570 443h1v1h-1zM571 443h1v1h-1zM572 444h1v1h-1zM573 444h1v1h-1zM574 444h1v1h-1zM575 443h1v1h-1zM576 443h1v1h-1zM577 443h1v1h-1zM578 443h1v1h-1zM579 442h1v1h-1zM580 442h1v1h-1zM581 442h1v1h-1zM582 442h1v1h-1zM583 442h1v1h-1zM584 442h1v1h-1zM585 442h1v3h-1zM586 445h1v6h-1zM587 451h1v6h-1zM588 457h1v6h-1zM589 463h1v3h-1zM590 465h1v1h-1zM591 464h1v1h-1zM592 464h1v1h-1zM593 464h1v1h-1zM594 463h1v1h-1zM595 461h1v2h-1zM596 460h1v1h-1zM597 459h1v1h-1zM598 460h1v2h-1zM599 462h1v1h-1zM600 463h1v2h-1zM601 465h1v1h-1zM602 466h1v1h-1zM603 466h1v1h-1zM604 467h1v1h-1zM605 467h1v1h-1zM606 468h1v1h-1zM607 469h1v2h-1zM608 471h1v1h-1zM609 472h1v1h-1zM610 471h1v1h-1zM611 470h1v1h-1zM612 469h1v1h-1zM613 468h1v1h-1zM614 467h1v1h-1zM615 467h1v1h-1zM616 466h1v1h-1zM617 466h1v1h-1zM618 466h1v1h-1zM619 466h1v1h-1zM620 466h1v1h-1zM621 466h1v1h-1zM622 467h1v1h-1zM623 468h1v1h-1zM624 469h1v1h-1zM625 470h1v1h-1zM626 471h1v1h-1zM627 472h1v1h-1zM628 473h1v1h-1zM629 474h1v1h-1zM630 474h1v1h-1zM631 474h1v1h-1zM632 474h1v1h-1zM633 474h1v2h-1zM634 476h1v3h-1zM635 479h1v3h-1zM636 482h1v3h-1zM637 485h1v2h-1zM638 487h1v1h-1zM639 488h1v1h-1zM640 489h1v1h-1zM641 489h1v2h-1zM642 487h1v2h-1zM643 485h1v2h-1zM644 483h1v2h-1zM645 481h1v2h-1zM646 482h1v1h-1zM647 483h1v1h-1zM648 483h1v1h-1zM649 484h1v2h-1zM650 486h1v4h-1zM651 490h1v4h-1zM652 494h1v4h-1zM653 497h1v3h-1zM654 493h1v4h-1zM655 489h1v4h-1zM656 485h1v4h-1zM657 482h1v3h-1zM658 481h1v1h-1zM659 480h1v1h-1zM660 480h1v1h-1zM661 478h1v2h-1zM662 475h1v3h-1zM663 471h1v4h-1zM664 468h1v3h-1zM665 466h1v2h-1zM666 466h1v1h-1zM667 466h1v1h-1zM668 466h1v1h-1zM669 466h1v3h-1zM670 469h1v5h-1zM671 474h1v4h-1zM672 478h1v5h-1zM673 483h1v3h-1zM674 486h1v1h-1zM675 486h1v1h-1zM676 487h1v1h-1zM677 486h1v2h-1zM678 484h1v2h-1zM679 482h1v2h-1zM680 480h1v2h-1zM681 478h1v2h-1zM682 476h1v2h-1zM683 475h1v1h-1zM684 473h1v2h-1zM685 472h1v1h-1zM686 471h1v1h-1zM687 471h1v1h-1zM688 470h1v1h-1zM689 470h1v1h-1zM690 470h1v1h-1zM691 469h1v1h-1zM692 469h1v1h-1zM693 469h1v1h-1zM694 470h1v2h-1zM695 472h1v2h-1zM696 474h1v2h-1zM697 476h1v1h-1zM698 475h1v1h-1zM699 475h1v1h-1zM700 474h1v1h-1zM701 474h1v1h-1zM702 473h1v1h-1zM703 473h1v1h-1zM704 472h1v1h-1zM705 472h1v1h-1zM706 471h1v1h-1zM707 470h1v1h-1zM708 469h1v1h-1zM709 468h1v1h-1zM710 467h1v1h-1zM711 467h1v1h-1zM712 466h1v1h-1zM713 466h1v1h-1zM714 466h1v1h-1zM715 465h1v1h-1zM716 465h1v1h-1zM717 465h1v1h-1zM718 465h1v1h-1zM719 464h1v1h-1zM720 464h1v1h-1zM721 464h1v1h-1zM722 463h1v1h-1zM723 462h1v1h-1zM724 461h1v1h-1zM725 460h1v1h-1zM726 460h1v1h-1zM727 460h1v1h-1zM728 460h1v1h-1zM729 460h1v1h-1zM730 461h1v1h-1zM731 461h1v1h-1zM732 462h1v1h-1zM733 462h1v1h-1zM734 463h1v2h-1zM735 465h1v2h-1zM736 467h1v2h-1zM737 469h1v2h-1zM738 471h1v2h-1zM739 473h1v2h-1zM740 475h1v2h-1zM741 477h1v1h-1zM742 478h1v2h-1zM743 480h1v2h-1zM744 482h1v2h-1zM745 484h1v1h-1zM746 485h1v2h-1zM747 487h1v1h-1zM748 488h1v2h-1zM749 490h1v1h-1zM750 488h1v2h-1zM751 486h1v2h-1zM752 484h1v2h-1zM753 482h1v2h-1zM754 483h1v1h-1zM755 484h1v1h-1zM756 485h1v1h-1zM757 486h1v1h-1zM758 485h1v1h-1zM759 484h1v1h-1zM760 483h1v1h-1zM761 482h1v1h-1zM762 483h1v1h-1zM763 483h1v1h-1zM764 484h1v1h-1zM765 484h1v1h-1zM766 482h1v2h-1zM767 481h1v1h-1zM768 479h1v2h-1zM769 478h1v1h-1zM770 479h1v1h-1zM771 480h1v2h-1zM772 482h1v1h-1zM773 483h1v1h-1zM774 481h1v2h-1zM775 479h1v2h-1zM776 477h1v2h-1zM777 476h1v1h-1zM778 474h1v2h-1zM779 473h1v1h-1zM780 471h1v2h-1zM781 470h1v1h-1zM782 468h1v2h-1zM783 466h1v2h-1zM784 464h1v2h-1zM785 463h1v1h-1zM786 461h1v2h-1zM787 459h1v2h-1zM788 457h1v2h-1zM789 455h1v2h-1zM790 455h1v1h-1zM791 456h1v1h-1zM792 456h1v1h-1zM793 456h1v1h-1zM794 455h1v1h-1zM795 453h1v2h-1zM796 452h1v1h-1zM797 451h1v2h-1zM798 453h1v2h-1zM799 455h1v2h-1zM800 457h1v2h-1zM801 459h1v3h-1zM802 462h1v4h-1zM803 466h1v3h-1zM804 469h1v4h-1zM805 473h1v2h-1zM806 472h1v2h-1zM807 470h1v2h-1zM808 468h1v2h-1zM809 466h1v2h-1zM810 467h1v1h-1zM811 467h1v1h-1zM812 468h1v1h-1zM813 468h1v1h-1zM814 466h1v2h-1zM815 465h1v1h-1zM816 463h1v2h-1zM817 462h1v1h-1zM818 461h1v1h-1zM819 459h1v2h-1zM820 458h1v1h-1zM821 457h1v1h-1zM822 458h1v1h-1zM823 458h1v1h-1zM824 459h1v1h-1zM825 459h1v1h-1zM826 458h1v1h-1zM827 457h1v1h-1zM828 457h1v1h-1zM829 456h1v1h-1zM830 457h1v1h-1zM831 458h1v1h-1zM832 459h1v1h-1zM833 459h1v2h-1zM834 457h1v2h-1zM835 454h1v3h-1zM836 452h1v2h-1zM837 450h1v2h-1zM838 449h1v1h-1zM839 448h1v1h-1zM840 447h1v1h-1zM841 446h1v2h-1zM842 448h1v2h-1zM843 450h1v2h-1zM844 452h1v2h-1zM845 454h1v2h-1zM846 455h1v1h-1zM847 454h1v1h-1zM848 454h1v1h-1zM849 454h1v1h-1zM850 453h1v1h-1zM851 453h1v1h-1zM852 452h1v1h-1zM853 452h1v1h-1zM854 452h1v1h-1zM855 452h1v1h-1zM856 452h1v1h-1zM857 452h1v1h-1zM858 451h1v1h-1zM859 450h1v1h-1zM860 450h1v1h-1zM861 449h1v4h-1zM862 453h1v8h-1zM863 461h1v8h-1zM864 469h1v8h-1zM865 477h1v5h-1zM866 480h1v1h-1zM867 478h1v2h-1zM868 477h1v1h-1zM869 476h1v1h-1zM870 476h1v1h-1zM871 477h1v1h-1zM872 477h1v1h-1zM873 477h1v1h-1zM874 478h1v1h-1zM875 478h1v1h-1zM876 479h1v1h-1zM877 479h1v1h-1zM878 477h1v2h-1zM879 475h1v2h-1zM880 473h1v2h-1zM881 472h1v1h-1zM882 473h1v2h-1zM883 475h1v1h-1zM884 476h1v2h-1zM885 478h1v1h-1zM886 479h1v1h-1zM887 480h1v1h-1zM888 481h1v1h-1zM889 482h1v1h-1zM890 481h1v1h-1zM891 480h1v1h-1zM892 480h1v1h-1zM893 479h1v1h-1zM894 477h1v2h-1zM895 475h1v2h-1zM896 473h1v2h-1zM897 472h1v1h-1zM898 471h1v1h-1zM899 469h1v2h-1zM900 468h1v1h-1zM901 467h1v1h-1zM902 466h1v1h-1zM903 466h1v1h-1zM904 465h1v1h-1zM905 464h1v2h-1zM906 460h1v4h-1zM907 456h1v4h-1zM908 452h1v4h-1zM909 450h1v2h-1zM910 452h1v2h-1zM911 454h1v3h-1zM912 457h1v2h-1zM913 459h1v6h-1zM914 465h1v9h-1zM915 474h1v9h-1zM916 483h1v9h-1zM917 492h1v6h-1zM918 498h1v4h-1zM919 502h1v3h-1zM920 505h1v4h-1zM921 509h1v2h-1zM922 508h1v2h-1zM923 507h1v1h-1zM924 505h1v2h-1zM925 504h1v1h-1zM926 505h1v1h-1zM927 506h1v1h-1zM928 507h1v1h-1zM929 508h1v1h-1zM930 508h1v1h-1zM931 509h1v1h-1zM932 509h1v1h-1zM933 509h1v1h-1zM934 510h1v1h-1zM935 510h1v1h-1zM936 511h1v1h-1zM937 511h1v1h-1zM938 512h1v2h-1zM939 514h1v2h-1zM940 516h1v2h-1zM941 518h1v1h-1zM942 519h1v1h-1zM943 519h1v1h-1zM944 520h1v1h-1zM945 520h1v1h-1zM946 521h1v1h-1zM947 521h1v1h-1zM948 522h1v1h-1zM949 521h1v2h-1zM950 519h1v2h-1zM951 517h1v2h-1zM952 515h1v2h-1zM953 513h1v2h-1zM954 513h1v1h-1zM955 512h1v1h-1zM956 512h1v1h-1zM957 511h1v2h-1zM958 509h1v2h-1zM959 507h1v2h-1zM960 505h1v2h-1zM961 502h1v3h-1zM962 499h1v3h-1zM963 495h1v4h-1zM964 492h1v3h-1zM965 490h1v2h-1zM966 490h1v1h-1zM967 491h1v1h-1zM968 491h1v1h-1zM969 491h1v1h-1zM970 492h1v1h-1zM971 493h1v2h-1zM972 495h1v1h-1zM973 496h1v1h-1zM974 495h1v1h-1zM975 493h1v2h-1zM976 492h1v1h-1zM977 491h1v1h-1zM978 491h1v1h-1zM979 491h1v1h-1zM980 491h1v1h-1zM981 491h1v1h-1zM982 489h1v2h-1zM983 487h1v2h-1zM984 485h1v2h-1zM985 483h1v2h-1zM986 479h1v4h-1zM987 476h1v3h-1zM988 472h1v4h-1zM989 470h1v2h-1zM990 469h1v1h-1zM991 469h1v1h-1zM992 468h1v1h-1zM993 468h1v1h-1zM994 466h1v2h-1zM995 464h1v2h-1zM996 462h1v2h-1zM997 461h1v1h-1zM998 462h1v2h-1zM999 464h1v2h-1zM1000 466h1v2h-1zM1001 468h1v2h-1zM1002 469h1v1h-1zM1003 469h1v1h-1zM1004 469h1v1h-1zM1005 469h1v1h-1zM1006 470h1v2h-1zM1007 472h1v2h-1zM1008 474h1v2h-1zM1009 476h1v1h-1zM1010 477h1v2h-1zM1011 479h1v1h-1zM1012 480h1v2h-1zM1013 481h1v2h-1zM1014 478h1v3h-1zM1015 476h1v2h-1zM1016 473h1v3h-1zM1017 471h1v2h-1zM1018 470h1v1h-1zM1019 468h1v2h-1zM1020 467h1v1h-1zM1021 466h1v1h-1zM1022 467h1v1h-1zM1023 468h1v2h-1zM1024 470h1v1h-1zM1025 471h1v1h-1zM1026 471h1v1h-1zM1027 471h1v1h-1zM1028 471h1v1h-1zM1029 471h1v1h-1zM1030 471h1v1h-1zM1031 471h1v1h-1zM1032 471h1v1h-1zM1033 470h1v2h-1zM1034 468h1v2h-1zM1035 466h1v2h-1zM1036 464h1v2h-1zM1037 462h1v2h-1z" fill="#1e90ff"/>
<rect x="823" y="92" width="273" height="2" fill="#ff0000"/>
<rect x="646" y="192" width="617" height="2" fill="#00ff00"/>
<rect x="973" y="316" width="245" height="1" fill="#0000ff"/>
<rect x="972" y="317" width="246" height="1" fill="#0000ff"/>
<line x1="6" y1="438.5" x2="1308" y2="438.5" stroke="#c0c0c0" stroke-width="1" stroke-dasharray="3,3"/>
<line x1="6" y1="502.5" x2="1308" y2="502.5" stroke="#c0c0c0" stroke-width="1" stroke-dasharray="3,3"/>
<rect x="4" y="30" width="1305" height="1" fill="#000"/>
<rect x="4" y="30" width="1" height="358" fill="#000"/>
<rect x="1308" y="30" width="1" height="358" fill="#000"/>
<rect x="4" y="387" width="1305" height="1" fill="#000"/>
<rect x="4" y="389" width="1305" height="1" fill="#000"/>
<rect x="4" y="389" width="1" height="162" fill="#000"/>
<rect x="1308" y="389" width="1" height="162" fill="#000"/>
<rect x="4" y="550" width="1305" height="1" fill="#000"/>
<rect x="1309" y="54" width="2" height="1" fill="#000"/>
<rect x="1309" y="87" width="2" height="1" fill="#000"/>
<rect x="1309" y="120" width="2" height="1" fill="#000"/>
<rect x="1309" y="153" width="2" height="1" fill="#000"/>
<rect x="1309" y="186" width="2" height="1" fill="#000"/>
<rect x="1309" y="219" width="2" height="1" fill="#000"/>
<rect x="1309" y="252" width="2" height="1" fill="#000"/>
<rect x="1309" y="285" width="2" height="1" fill="#000"/>
<rect x="1309" y="318" width="2" height="1" fill="#000"/>
<rect x="1309" y="351" width="2" height="1" fill="#000"/>
<rect x="1309" y="384" width="2" height="1" fill="#000"/>
<rect x="1310" y="225" width="40" height="11" fill="#000"/>
<rect x="1309" y="390" width="2" height="1" fill="#000"/>
<rect x="1309" y="438" width="2" height="1" fill="#000"/>
<rect x="1309" y="502" width="2" height="1" fill="#000"/>
<rect x="5" y="551" width="1" height="4" fill="#000"/>
<rect x="69" y="551" width="1" height="4" fill="#000"/>
<rect x="133" y="551" width="1" height="4" fill="#000"/>
<rect x="197" y="551" width="1" height="4" fill="#000"/>
<rect x="261" y="551" width="1" height="4" fill="#000"/>
<rect x="325" y="551" width="1" height="4" fill="#000"/>
<rect x="389" y="551" width="1" height="4" fill="#000"/>
<rect x="453" y="551" width="1" height="4" fill="#000"/>
<rect x="517" y="551" width="1" height="4" fill="#000"/>
<rect x="581" y="551" width="1" height="4" fill="#000"/>
<rect x="645" y="551" width="1" height="4" fill="#000"/>
<rect x="709" y="551" width="1" height="4" fill="#000"/>
<rect x="773" y="551" width="1" height="4" fill="#000"/>
<rect x="837" y="551" width="1" height="4" fill="#000"/>
<rect x="901" y="551" width="1" height="4" fill="#000"/>
<rect x="965" y="551" width="1" height="4" fill="#000"/>
<rect x="1029" y="551" width="1" height="4" fill="#000"/>
</svg>
<div class="ax" style="left:1314px;top:49px">6.97670</div>
<div class="ax" style="left:1314px;top:82px">6.96095</div>
<div class="ax" style="left:1314px;top:115px">6.94565</div>
<div class="ax" style="left:1314px;top:148px">6.93035</div>
<div class="ax" style="left:1314px;top:181px">6.91460</div>
<div class="ax" style="left:1314px;top:214px">6.89930</div>
<div class="ax" style="left:1314px;top:247px">6.88400</div>
<div class="ax" style="left:1314px;top:280px">6.86870</div>
<div class="ax" style="left:1314px;top:313px">6.85295</div>
<div class="ax" style="left:1314px;top:346px">6.83765</div>
<div class="ax" style="left:1314px;top:379px">6.82235</div>
<div class="ax cur" style="left:1314px;top:225px;">6.89439</div>
<div class="ax" style="left:1312px;top:391px">100</div>
<div class="ax" style="left:1311px;top:433px">70</div>
<div class="ax" style="left:1311px;top:497px">30</div>
<div class="ax" style="left:1312px;top:539px">0</div>
<div class="ax" style="left:4px;top:554.6px;transform:scaleX(0.95)">9 Oct 2018</div>
<div class="ax" style="left:68px;top:554.6px;transform:scaleX(0.95)">12 Oct 00:00</div>
<div class="ax" style="left:132px;top:554.6px;transform:scaleX(0.95)">16 Oct 20:00</div>
<div class="ax" style="left:196px;top:554.6px;transform:scaleX(0.95)">19 Oct 12:00</div>
<div class="ax" style="left:260px;top:554.6px;transform:scaleX(0.95)">24 Oct 04:00</div>
<div class="ax" style="left:324px;top:554.6px;transform:scaleX(0.95)">26 Oct 20:00</div>
<div class="ax" style="left:388px;top:554.6px;transform:scaleX(0.95)">31 Oct 16:00</div>
<div class="ax" style="left:452px;top:554.6px;transform:scaleX(0.95)">5 Nov 12:00</div>
<div class="ax" style="left:516px;top:554.6px;transform:scaleX(0.95)">8 Nov 04:00</div>
<div class="ax" style="left:580px;top:554.6px;transform:scaleX(0.95)">13 Nov 00:00</div>
<div class="ax" style="left:644px;top:554.6px;transform:scaleX(0.95)">15 Nov 16:00</div>
<div class="ax" style="left:708px;top:554.6px;transform:scaleX(0.95)">20 Nov 08:00</div>
<div class="ax" style="left:772px;top:554.6px;transform:scaleX(0.95)">23 Nov 00:00</div>
<div class="ax" style="left:836px;top:554.6px;transform:scaleX(0.95)">27 Nov 20:00</div>
<div class="ax" style="left:900px;top:554.6px;transform:scaleX(0.95)">30 Nov 12:00</div>
<div class="ax" style="left:964px;top:554.6px;transform:scaleX(0.95)">5 Dec 08:00</div>
<div class="ax" style="left:1028px;top:554.6px;transform:scaleX(0.95)">8 Dec 00:00</div>
<div class="ax" style="left:9.5px;top:393px;">RSI(14) 55.8813</div>
<!-- toolbar -->
<div id="tb"></div><div id="tbl"></div>
<svg style="position:absolute;left:0;top:0" width="1350" height="28" viewBox="0 0 1350 28">
 <g fill="#6a6a6a" shape-rendering="crispEdges"><rect x="0" y="8" width="1" height="1"/><rect x="0" y="20" width="1" height="1"/><rect x="2" y="8" width="1" height="1"/><rect x="2" y="20" width="1" height="1"/><rect x="4" y="8" width="1" height="1"/><rect x="4" y="20" width="1" height="1"/><rect x="6" y="8" width="1" height="1"/><rect x="6" y="20" width="1" height="1"/><rect x="8" y="8" width="1" height="1"/><rect x="8" y="20" width="1" height="1"/><rect x="9" y="8" width="1" height="1"/><rect x="9" y="10" width="1" height="1"/><rect x="9" y="12" width="1" height="1"/><rect x="9" y="14" width="1" height="1"/><rect x="9" y="16" width="1" height="1"/><rect x="9" y="18" width="1" height="1"/><rect x="9" y="20" width="1" height="1"/></g>
 <g fill="#5a5a5a" shape-rendering="crispEdges"><rect x="0" y="11" width="8" height="2"/><rect x="3" y="11" width="2" height="8"/></g>
 <path d="M28.3 7.8L32 11.3 28.6 13.6 25 11.3z" fill="#555"/>
 <path d="M35.8 20.9L32.2 17.6 35.6 15.6 39.3 17.6z" fill="#555"/>
 <path d="M27.3 14.6l2.6 2.6 4-5" stroke="#555" stroke-width="1.4" fill="none"/>
 <path d="M45.4 12.9h5.8l-2.9 3.4z" fill="#222"/>
 <rect x="57" y="1" width="1" height="25" fill="#a0a0a0"/><rect x="58" y="1" width="1" height="25" fill="#fff"/>
 <g fill="#a0a0a0" shape-rendering="crispEdges"><rect x="61" y="4" width="3" height="1"/><rect x="61" y="6" width="3" height="1"/><rect x="61" y="8" width="3" height="1"/><rect x="61" y="10" width="3" height="1"/><rect x="61" y="12" width="3" height="1"/><rect x="61" y="14" width="3" height="1"/><rect x="61" y="16" width="3" height="1"/><rect x="61" y="18" width="3" height="1"/><rect x="61" y="20" width="3" height="1"/><rect x="61" y="22" width="3" height="1"/></g>
 <defs><pattern id="chk" width="2" height="2" patternUnits="userSpaceOnUse"><rect width="2" height="2" fill="#f0f0f0"/><rect width="1" height="1" fill="#fff"/><rect x="1" y="1" width="1" height="1" fill="#fff"/></pattern></defs>
 <g shape-rendering="crispEdges"><rect x="207" y="2" width="26" height="23" fill="#fff"/><rect x="207" y="2" width="25" height="22" fill="#a0a0a0"/><rect x="208" y="3" width="24" height="21" fill="url(#chk)"/></g>
 <rect x="0" y="0" width="1350" height="1" fill="#fff"/>
 <rect x="318" y="1" width="1" height="25" fill="#a0a0a0"/><rect x="319" y="1" width="1" height="25" fill="#fff"/>
</svg>
<div class="tf" style="left:72px">M1</div><div class="tf" style="left:100px">M5</div><div class="tf" style="left:126px">M15</div><div class="tf" style="left:153.5px">M30</div><div class="tf" style="left:185px">H1</div><div class="tf" style="left:212.3px">H4</div><div class="tf" style="left:241.3px">D1</div><div class="tf" style="left:267.8px">W1</div><div class="tf" style="left:294.8px">MN</div>
<div id="lstrip"></div>
<!-- symbol line -->
<svg style="position:absolute;left:8px;top:36px" width="8" height="6"><path d="M0 5.5L3.5 1 7 5.5z" fill="#000"/></svg>
<div class="ax" style="left:20px;top:33px;transform:scaleX(0.97);">USDCNH,H4</div><div class="ax" style="left:82px;top:33px;">6.90130</div><div class="ax" style="left:118px;top:33px;">6.90134</div><div class="ax" style="left:154px;top:33px;">6.89264</div><div class="ax" style="left:190px;top:33px;">6.89439</div>
<!-- trade panel -->
<div style="position:absolute;left:8px;top:50px;width:52px;height:25px;background:linear-gradient(#5a5aff,#3c3ce8);"></div>
<div style="position:absolute;left:175px;top:50px;width:52px;height:25px;background:linear-gradient(#5a5aff,#3c3ce8);"></div>
<div style="position:absolute;left:8px;top:74px;width:109px;height:40px;background:linear-gradient(#3c3ce8,#2020d0 45%,#0000a0);"></div>
<div style="position:absolute;left:119px;top:74px;width:108px;height:40px;background:linear-gradient(#3c3ce8,#2020d0 45%,#0000a0);"></div>
<div style="position:absolute;left:12px;top:74px;width:45px;height:1px;background:#9a9aff;"></div>
<div style="position:absolute;left:179px;top:74px;width:45px;height:1px;background:#9a9aff;"></div>
<div style="position:absolute;left:62px;top:50px;width:111px;height:22px;background:#fff;border:1px solid #b0b0b0;box-sizing:border-box;"></div>
<div style="position:absolute;left:64px;top:52px;width:19px;height:18px;background:linear-gradient(#ececec,#ececec 50%,#d6d6d6 50%,#dadada);border-right:1px solid #b8b8b8;box-sizing:border-box;"></div>
<div style="position:absolute;left:152px;top:52px;width:19px;height:18px;background:linear-gradient(#ececec,#ececec 50%,#d6d6d6 50%,#dadada);border-left:1px solid #b8b8b8;box-sizing:border-box;"></div>
<svg style="position:absolute;left:69px;top:58px" width="8" height="5"><path d="M0.5 0.5H7L3.75 4z" fill="#5a6ac8"/></svg>
<svg style="position:absolute;left:157px;top:58px" width="8" height="5"><path d="M0.5 4H7L3.75 0.5z" fill="#5a6ac8"/></svg>
<div class="pn" style="left:19.8px;top:55px;font-size:11.8px;line-height:14px;transform-origin:0 50%;transform:scaleX(0.9);">SELL</div>
<div class="pn" style="left:188px;top:55px;font-size:11.8px;line-height:14px;transform-origin:0 50%;transform:scaleX(1.0);">BUY</div>
<div class="pn" style="left:124.4px;top:54px;font-size:12.2px;line-height:14px;color:#000;transform-origin:0 50%;transform:scaleX(0.97);">3.00</div>
<div class="pn" style="left:28px;top:94px;font-size:12px;line-height:12px;font-weight:bold;transform-origin:0 50%;transform:scaleX(0.98);">6.89</div>
<div class="pn" style="left:54px;top:75px;font-size:34px;line-height:36px;transform-origin:0 50%;transform:scaleX(0.93);">43</div>
<div class="pn" style="left:95px;top:78px;font-size:11.5px;line-height:12px;font-weight:bold;">9</div>
<div class="pn" style="left:138px;top:94px;font-size:12px;line-height:12px;font-weight:bold;transform-origin:0 50%;transform:scaleX(0.98);">6.89</div>
<div class="pn" style="left:166px;top:75px;font-size:34px;line-height:36px;transform-origin:0 50%;transform:scaleX(0.9);">70</div>
<div class="pn" style="left:206px;top:78px;font-size:11.5px;line-height:12px;font-weight:bold;">6</div>
<!-- tabs -->
<div style="position:absolute;left:0;top:572px;width:1350px;height:1px;background:#e8e8e8;"></div>
<div id="tabs"></div><div id="tabsbot"></div>
<div style="position:absolute;left:0;top:575px;width:2px;height:19px;background:#696969;border-left:1px solid #a0a0a0;box-sizing:border-box;"></div>
<div id="atab"></div>
<div class="tab" style="left:18px;">EURUSD,H4</div><div class="tab" style="left:108px;">USDCHF,H4</div><div class="tab" style="left:197px;">USDCAD,H4</div><div class="tab" style="left:289px;">AUDUSD,H4</div><div class="tab" style="left:380px;color:#000;">USDCNH,H4</div><div class="tab" style="left:472px;">USDJPY,H1</div><div class="tab" style="left:557px;">XAUUSD,H1</div>
<div class="sep" style="left:98px"></div><div class="sep" style="left:186px"></div><div class="sep" style="left:278px"></div><div class="sep" style="left:546px"></div><div class="sep" style="left:637px"></div>
<svg style="position:absolute;left:1318px;top:578px" width="30" height="10"><path d="M6.3 1.6v6.6L2.9 4.9z" fill="#8a8a8a"/><path d="M21.9 1.6v6.6l3.4-3.3z" fill="#8a8a8a"/></svg>
</body></html>
